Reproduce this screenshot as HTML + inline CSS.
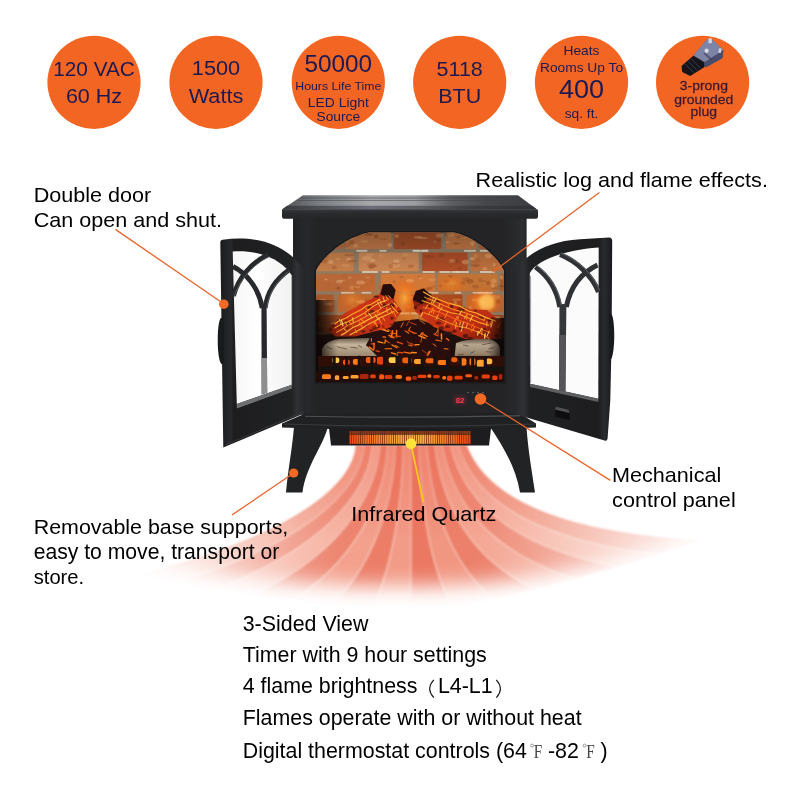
<!DOCTYPE html>
<html><head><meta charset="utf-8"><title>Infrared Quartz Stove</title>
<style>
html,body{margin:0;padding:0;background:#fff;}
body{width:800px;height:800px;overflow:hidden;font-family:"Liberation Sans",sans-serif;}
svg{display:block;position:absolute;left:0;top:0;will-change:transform;}
text{font-family:"Liberation Sans",sans-serif;}
</style></head><body>
<svg width="800" height="800" viewBox="0 0 800 800">
<defs>
<linearGradient id="mV" x1="0" y1="445" x2="0" y2="606" gradientUnits="userSpaceOnUse"><stop offset="0" stop-color="#fff"/><stop offset="0.55" stop-color="#f4f4f4"/><stop offset="0.75" stop-color="#c0c0c0"/><stop offset="0.9" stop-color="#555"/><stop offset="1" stop-color="#000"/></linearGradient>
<linearGradient id="mL" x1="130" y1="0" x2="230" y2="0" gradientUnits="userSpaceOnUse"><stop offset="0" stop-color="#000" stop-opacity="1"/><stop offset="1" stop-color="#000" stop-opacity="0"/></linearGradient>
<linearGradient id="mR" x1="630" y1="0" x2="700" y2="0" gradientUnits="userSpaceOnUse"><stop offset="0" stop-color="#000" stop-opacity="0"/><stop offset="1" stop-color="#000" stop-opacity="1"/></linearGradient>
<linearGradient id="mH" x1="100" y1="0" x2="740" y2="0" gradientUnits="userSpaceOnUse"><stop offset="0.0000" stop-color="#fff" stop-opacity="0"/><stop offset="0.0781" stop-color="#fff" stop-opacity="0.12"/><stop offset="0.1562" stop-color="#fff" stop-opacity="0.32"/><stop offset="0.2344" stop-color="#fff" stop-opacity="0.58"/><stop offset="0.3125" stop-color="#fff" stop-opacity="0.86"/><stop offset="0.3750" stop-color="#fff" stop-opacity="1"/><stop offset="0.5938" stop-color="#fff" stop-opacity="1"/><stop offset="0.6562" stop-color="#fff" stop-opacity="0.86"/><stop offset="0.7500" stop-color="#fff" stop-opacity="0.6"/><stop offset="0.8438" stop-color="#fff" stop-opacity="0.34"/><stop offset="0.9219" stop-color="#fff" stop-opacity="0.13"/><stop offset="1.0000" stop-color="#fff" stop-opacity="0"/></linearGradient>
<filter id="fMask" filterUnits="userSpaceOnUse" x="60" y="380" width="720" height="280"><feGaussianBlur stdDeviation="10"/></filter>
<mask id="mHeat" style="mask-type:alpha" maskUnits="userSpaceOnUse" x="100" y="430" width="640" height="200"><g filter="url(#fMask)"><path d="M100,380 L100,552 C200,578 320,586 411,586 C520,586 620,565 740,520 L740,380 Z" fill="url(#mH)"/></g></mask>
<filter id="fHeat" x="-5%" y="-5%" width="110%" height="110%"><feGaussianBlur stdDeviation="1.3"/></filter>

<linearGradient id="gHot" x1="0" y1="445" x2="0" y2="540" gradientUnits="userSpaceOnUse"><stop offset="0" stop-color="#ea5a42" stop-opacity="0.3"/><stop offset="1" stop-color="#ea5a42" stop-opacity="0"/></linearGradient>
<linearGradient id="gBody" x1="0" y1="0" x2="1" y2="0">
<stop offset="0" stop-color="#212224"/><stop offset="0.06" stop-color="#27282b"/><stop offset="0.1" stop-color="#232426"/>
<stop offset="0.9" stop-color="#242427"/><stop offset="0.985" stop-color="#2c2e30"/><stop offset="1" stop-color="#212224"/></linearGradient>
<linearGradient id="gLid" x1="0" y1="0" x2="0" y2="1">
<stop offset="0" stop-color="#28292d"/><stop offset="0.22" stop-color="#2f3134"/><stop offset="0.3" stop-color="#47494d"/>
<stop offset="0.5" stop-color="#3b3d40"/><stop offset="0.8" stop-color="#37383c"/><stop offset="1" stop-color="#404246"/></linearGradient>
<linearGradient id="gLidH" x1="282" y1="0" x2="537" y2="0" gradientUnits="userSpaceOnUse">
<stop offset="0" stop-color="#4e5053"/><stop offset="0.15" stop-color="#7c7f84"/><stop offset="0.35" stop-color="#a6a8ac"/><stop offset="0.52" stop-color="#9c9ea2"/><stop offset="0.66" stop-color="#5e5f63"/><stop offset="0.8" stop-color="#45474a"/><stop offset="1" stop-color="#3a3c3f"/></linearGradient>
<linearGradient id="gLidF" x1="282" y1="0" x2="537" y2="0" gradientUnits="userSpaceOnUse">
<stop offset="0" stop-color="#383a3d"/><stop offset="0.35" stop-color="#6a6d78"/><stop offset="0.55" stop-color="#5c5d62"/><stop offset="0.75" stop-color="#3a3c3f"/><stop offset="1" stop-color="#303135"/></linearGradient>
<linearGradient id="gRim" x1="0" y1="0" x2="0" y2="1">
<stop offset="0" stop-color="#37383c"/><stop offset="0.4" stop-color="#2a2b2e"/><stop offset="1" stop-color="#252628"/></linearGradient>
<linearGradient id="gGlow" x1="0" y1="0" x2="1" y2="0">
<stop offset="0" stop-color="#ee4a18"/><stop offset="0.2" stop-color="#f87a26"/><stop offset="0.45" stop-color="#fcae40"/><stop offset="0.6" stop-color="#fcb244"/><stop offset="0.8" stop-color="#f87a26"/><stop offset="1" stop-color="#ea4416"/></linearGradient>
<pattern id="pGrille" width="2.2" height="4" patternUnits="userSpaceOnUse"><rect x="1.5" width="0.7" height="4" fill="#5a1a08" opacity="0.75"/></pattern>
<radialGradient id="gFire" cx="0.5" cy="0.5" r="0.5">
<stop offset="0" stop-color="#ff9a30" stop-opacity="0.55"/><stop offset="0.5" stop-color="#ff7a20" stop-opacity="0.25"/><stop offset="1" stop-color="#ff6a10" stop-opacity="0"/></radialGradient>
<linearGradient id="gBoxShade" x1="0" y1="0" x2="0" y2="1">
<stop offset="0" stop-color="#000" stop-opacity="0.25"/><stop offset="0.25" stop-color="#000" stop-opacity="0"/><stop offset="0.55" stop-color="#000" stop-opacity="0.05"/><stop offset="0.75" stop-color="#100" stop-opacity="0.55"/><stop offset="1" stop-color="#100" stop-opacity="0.75"/></linearGradient>
<filter id="fBrick" x="-2%" y="-2%" width="104%" height="104%"><feGaussianBlur stdDeviation="0.55"/></filter>
<clipPath id="cBox"><path d="M316,382 L316,271 C321,259 343,238 369,232.6 L454,232.6 C478,238 499,259 504,271 L504,382 Z"/></clipPath>

<linearGradient id="gLogL" x1="0" y1="1" x2="1" y2="0"><stop offset="0" stop-color="#7a1c0c"/><stop offset="0.4" stop-color="#d23616"/><stop offset="0.75" stop-color="#c02c12"/><stop offset="1" stop-color="#48140a"/></linearGradient>
<linearGradient id="gLogR" x1="0" y1="0" x2="1" y2="1"><stop offset="0" stop-color="#48140a"/><stop offset="0.3" stop-color="#cc3416"/><stop offset="0.7" stop-color="#bc2c12"/><stop offset="1" stop-color="#64180c"/></linearGradient>
<linearGradient id="gAsh" x1="0" y1="0" x2="0" y2="1"><stop offset="0" stop-color="#6a5a4a"/><stop offset="0.25" stop-color="#c4b49a"/><stop offset="0.65" stop-color="#a08c74"/><stop offset="1" stop-color="#5a3a28"/></linearGradient>
<radialGradient id="gFlame" cx="0.5" cy="0.5" r="0.5"><stop offset="0" stop-color="#ffb040" stop-opacity="0.9"/><stop offset="0.5" stop-color="#ff7a18" stop-opacity="0.55"/><stop offset="1" stop-color="#ff5a08" stop-opacity="0"/></radialGradient>
<linearGradient id="gSideL" x1="0" y1="0" x2="1" y2="0"><stop offset="0" stop-color="#0c0605" stop-opacity="0.95"/><stop offset="1" stop-color="#0c0605" stop-opacity="0"/></linearGradient>
<linearGradient id="gSideR" x1="1" y1="0" x2="0" y2="0"><stop offset="0" stop-color="#0c0605" stop-opacity="0.9"/><stop offset="1" stop-color="#0c0605" stop-opacity="0"/></linearGradient>
<filter id="fBlur1" x="-20%" y="-20%" width="140%" height="140%"><feGaussianBlur stdDeviation="0.45"/></filter>
<filter id="fBlur2" x="-20%" y="-20%" width="140%" height="140%"><feGaussianBlur stdDeviation="1.6"/></filter>

<linearGradient id="gDoorL" x1="0" y1="0" x2="1" y2="0"><stop offset="0" stop-color="#1b1b1e"/><stop offset="0.12" stop-color="#28292c"/><stop offset="0.16" stop-color="#1d1d20"/><stop offset="0.84" stop-color="#212224"/><stop offset="0.9" stop-color="#303135"/><stop offset="1" stop-color="#242527"/></linearGradient>
<linearGradient id="gDoorR" x1="0" y1="0" x2="1" y2="0"><stop offset="0" stop-color="#242527"/><stop offset="0.1" stop-color="#303135"/><stop offset="0.17" stop-color="#202123"/><stop offset="0.86" stop-color="#1d1d20"/><stop offset="0.92" stop-color="#2a2b2e"/><stop offset="1" stop-color="#1a1a1d"/></linearGradient>
<linearGradient id="gGlassL" x1="0" y1="0" x2="1" y2="0"><stop offset="0" stop-color="#f6f6f7"/><stop offset="0.4" stop-color="#ffffff"/><stop offset="1" stop-color="#f1f1f2"/></linearGradient>

</defs>
<rect width="800" height="800" fill="#fff"/>

<circle cx="94" cy="82.3" r="46.6" fill="#f26522"/>
<circle cx="216" cy="82.3" r="46.6" fill="#f26522"/>
<circle cx="338.3" cy="82.3" r="46.6" fill="#f26522"/>
<circle cx="459.7" cy="82.3" r="46.6" fill="#f26522"/>
<circle cx="581.5" cy="82.3" r="46.6" fill="#f26522"/>
<circle cx="702.6" cy="82.3" r="46.6" fill="#f26522"/>
<text transform="translate(94,76) scale(1.025,1)" font-size="20.3" fill="#1b1a55" text-anchor="middle" >120 VAC</text>
<text transform="translate(94,103) scale(1.06,1)" font-size="20.3" fill="#1b1a55" text-anchor="middle" >60 Hz</text>
<text transform="translate(216,74.7) scale(1.06,1)" font-size="20.5" fill="#1b1a55" text-anchor="middle" >1500</text>
<text transform="translate(216,102.8) scale(1.06,1)" font-size="20.5" fill="#1b1a55" text-anchor="middle" >Watts</text>
<text transform="translate(338.3,71.5) scale(1.06,1)" font-size="23" fill="#1b1a55" text-anchor="middle" >50000</text>
<text transform="translate(338.3,90) scale(1.06,1)" font-size="11.6" fill="#1b1a55" text-anchor="middle" >Hours Life Time</text>
<text transform="translate(338.3,107) scale(1.06,1)" font-size="13.1" fill="#1b1a55" text-anchor="middle" >LED Light</text>
<text transform="translate(338.3,120.6) scale(1.06,1)" font-size="13" fill="#1b1a55" text-anchor="middle" >Source</text>
<text transform="translate(459.7,76) scale(1.06,1)" font-size="20.3" fill="#1b1a55" text-anchor="middle" >5118</text>
<text transform="translate(459.7,103) scale(1.06,1)" font-size="20.3" fill="#1b1a55" text-anchor="middle" >BTU</text>
<text transform="translate(581.5,55) scale(1.06,1)" font-size="13" fill="#1b1a55" text-anchor="middle" >Heats</text>
<text transform="translate(581.5,71.5) scale(1.06,1)" font-size="13" fill="#1b1a55" text-anchor="middle" >Rooms Up To</text>
<text transform="translate(581.5,98) scale(1.06,1)" font-size="25.5" fill="#1b1a55" text-anchor="middle" >400</text>
<text transform="translate(581.5,117.5) scale(1.06,1)" font-size="13" fill="#1b1a55" text-anchor="middle" >sq. ft.</text>
<text transform="translate(703.8,89.6) scale(1.06,1)" font-size="13.2" fill="#3b1830" text-anchor="middle" stroke="#3b1830" stroke-width="0.25">3-prong</text>
<text transform="translate(703.8,104.2) scale(1.06,1)" font-size="13.2" fill="#3b1830" text-anchor="middle" stroke="#3b1830" stroke-width="0.25">grounded</text>
<text transform="translate(703.8,116.4) scale(1.06,1)" font-size="13.2" fill="#3b1830" text-anchor="middle" stroke="#3b1830" stroke-width="0.25">plug</text>
<g>
<path d="M681.5,66 L693.6,55.4 L705,62.5 L705,66.8 L690.2,76 L682.2,72 Z" fill="#15151b"/>
<g stroke="#3a3c52" stroke-width="1"><path d="M685,63.8 L693.6,72.6"/><path d="M688,61.2 L697,70.3"/><path d="M691,58.6 L700.4,68.1"/></g>
<path d="M693.6,55.4 L706.7,39.8 L711.3,38.7 L723.4,50.1 L722.6,58 L706.7,66.9 L704.5,66.9 L704.5,62.4 Z" fill="#666b8c"/>
<path d="M693.6,55.4 L706.7,39.8 L711.3,38.7 L723.4,50.1 L705.5,61.5 Z" fill="#7e84a6"/>
<path d="M723.4,50.1 L722.6,58 L706.7,66.9 L704.5,66.9 L704.5,62.4 Z" fill="#4a4e6c"/>
<path d="M708.3,38.6 L711.8,38.3 L712,43 L708.6,43.4 Z" fill="#cfd2e0"/>
<path d="M718.8,48.5 L721.4,48.2 L721,52.8 L718.4,53 Z" fill="#cfd2e0"/>
<ellipse cx="706.6" cy="50.8" rx="2.1" ry="2.2" fill="#d6d8e4"/>
<path d="M704,53 L712,60 " stroke="#3c3f58" stroke-width="2.2" opacity="0.6"/>
</g>
<g mask="url(#mHeat)"><g filter="url(#fHeat)">
<path d="M356.5,445.0 C354.0,478.0 312.0,532.0 135.0,576.0 L174.4,582.8 C326.1,537.3 362.1,479.0 364.3,445.0 Z" fill="#f4a997"/>
<path d="M364.3,445.0 C362.1,479.0 326.1,537.3 174.4,582.8 L213.9,589.1 C340.3,542.2 370.3,480.0 372.1,445.0 Z" fill="#ef907c"/>
<path d="M372.1,445.0 C370.3,480.0 340.3,542.2 213.9,589.1 L253.3,595.1 C354.4,546.8 378.4,481.0 379.9,445.0 Z" fill="#f6b4a3"/>
<path d="M379.9,445.0 C378.4,481.0 354.4,546.8 253.3,595.1 L292.7,600.5 C368.6,551.1 386.6,482.0 387.6,445.0 Z" fill="#ed8570"/>
<path d="M387.6,445.0 C386.6,482.0 368.6,551.1 292.7,600.5 L332.1,605.4 C382.7,554.8 394.7,483.0 395.4,445.0 Z" fill="#f3a08c"/>
<path d="M395.4,445.0 C394.7,483.0 382.7,554.8 332.1,605.4 L371.6,609.4 C396.9,558.0 402.9,484.0 403.2,445.0 Z" fill="#ec7e68"/>
<path d="M403.2,445.0 C402.9,484.0 396.9,558.0 371.6,609.4 L411.0,612.0 C411.0,560.0 411.0,485.0 411.0,445.0 Z" fill="#f29b87"/>
<path d="M411.0,445.0 C411.0,485.0 411.0,560.0 411.0,612.0 L452.3,606.9 C425.1,557.8 420.3,483.1 418.9,445.0 Z" fill="#eb7862"/>
<path d="M418.9,445.0 C420.3,483.1 425.1,557.8 452.3,606.9 L493.6,598.9 C439.3,554.5 429.6,481.3 426.7,445.0 Z" fill="#f19681"/>
<path d="M426.7,445.0 C429.6,481.3 439.3,554.5 493.6,598.9 L534.9,589.4 C453.4,550.4 438.9,479.4 434.6,445.0 Z" fill="#ec806a"/>
<path d="M434.6,445.0 C438.9,479.4 453.4,550.4 534.9,589.4 L576.1,578.6 C467.6,545.9 448.1,477.6 442.4,445.0 Z" fill="#f4a693"/>
<path d="M442.4,445.0 C448.1,477.6 467.6,545.9 576.1,578.6 L617.4,566.9 C481.7,541.0 457.4,475.7 450.3,445.0 Z" fill="#ee8b76"/>
<path d="M450.3,445.0 C457.4,475.7 481.7,541.0 617.4,566.9 L658.7,554.3 C495.9,535.6 466.7,473.9 458.1,445.0 Z" fill="#f5b09e"/>
<path d="M458.1,445.0 C466.7,473.9 495.9,535.6 658.7,554.3 L700.0,541.0 C510.0,530.0 476.0,472.0 466.0,445.0 Z" fill="#f19984"/>
<path d="M364.3,445.0 C362.1,479.0 326.1,537.3 174.4,582.8" fill="none" stroke="#fbd5ca" stroke-width="1.3" opacity="0.65"/>
<path d="M372.1,445.0 C370.3,480.0 340.3,542.2 213.9,589.1" fill="none" stroke="#fbd5ca" stroke-width="1.3" opacity="0.65"/>
<path d="M379.9,445.0 C378.4,481.0 354.4,546.8 253.3,595.1" fill="none" stroke="#fbd5ca" stroke-width="1.3" opacity="0.65"/>
<path d="M387.6,445.0 C386.6,482.0 368.6,551.1 292.7,600.5" fill="none" stroke="#fbd5ca" stroke-width="1.3" opacity="0.65"/>
<path d="M395.4,445.0 C394.7,483.0 382.7,554.8 332.1,605.4" fill="none" stroke="#fbd5ca" stroke-width="1.3" opacity="0.65"/>
<path d="M403.2,445.0 C402.9,484.0 396.9,558.0 371.6,609.4" fill="none" stroke="#fbd5ca" stroke-width="1.3" opacity="0.65"/>
<path d="M411.0,445.0 C411.0,485.0 411.0,560.0 411.0,612.0" fill="none" stroke="#fbd5ca" stroke-width="1.3" opacity="0.65"/>
<path d="M418.9,445.0 C420.3,483.1 425.1,557.8 452.3,606.9" fill="none" stroke="#fbd5ca" stroke-width="1.3" opacity="0.65"/>
<path d="M426.7,445.0 C429.6,481.3 439.3,554.5 493.6,598.9" fill="none" stroke="#fbd5ca" stroke-width="1.3" opacity="0.65"/>
<path d="M434.6,445.0 C438.9,479.4 453.4,550.4 534.9,589.4" fill="none" stroke="#fbd5ca" stroke-width="1.3" opacity="0.65"/>
<path d="M442.4,445.0 C448.1,477.6 467.6,545.9 576.1,578.6" fill="none" stroke="#fbd5ca" stroke-width="1.3" opacity="0.65"/>
<path d="M450.3,445.0 C457.4,475.7 481.7,541.0 617.4,566.9" fill="none" stroke="#fbd5ca" stroke-width="1.3" opacity="0.65"/>
<path d="M458.1,445.0 C466.7,473.9 495.9,535.6 658.7,554.3" fill="none" stroke="#fbd5ca" stroke-width="1.3" opacity="0.65"/>
<path d="M356.5,445.0 C354.0,478.0 312.0,532.0 135.0,576.0 L700.0,541.0 C510.0,530.0 476.0,472.0 466.0,445.0 Z" fill="url(#gHot)"/>
<path d="M356.5,445.0 C354.0,478.0 312.0,532.0 135.0,576.0" fill="none" stroke="#ee7f66" stroke-width="1.4" opacity="0.8"/>
<path d="M466.0,445.0 C476.0,472.0 510.0,530.0 700.0,541.0" fill="none" stroke="#ee7f66" stroke-width="1.4" opacity="0.8"/>
</g></g>
<g id="stove">
<path d="M293,216 L526.6,216 L526.6,413 L518,414.5 L304,415 L293,413 Z" fill="url(#gBody)"/>
<path d="M314.5,383.5 L314.5,270.5 C320,258 342,236.5 369,231 L454,231 C479,236.5 500.5,258 505.5,270.5 L505.5,383.5 Z" fill="#1a1a1d"/>
<g clip-path="url(#cBox)">
<rect x="316" y="232" width="188" height="150" fill="#8f7a62"/>
<g filter="url(#fBrick)">
<rect x="316" y="232" width="27.0" height="17.0" rx="1.5" fill="#b2683c"/>
<ellipse cx="328.3" cy="241.3" rx="3.1" ry="1.6" fill="#a85a2c" opacity="0.4"/>
<ellipse cx="331.7" cy="236.4" rx="3.2" ry="1.8" fill="#7d3f20" opacity="0.4"/>
<ellipse cx="321.7" cy="239.8" rx="1.8" ry="2.1" fill="#e2a56a" opacity="0.4"/>
<ellipse cx="334.3" cy="234.5" rx="4.9" ry="1.8" fill="#e8b27a" opacity="0.4"/>
<ellipse cx="332.4" cy="236.0" rx="4.4" ry="0.9" fill="#8f4a26" opacity="0.4"/>
<ellipse cx="317.9" cy="245.4" rx="1.6" ry="1.5" fill="#7d3f20" opacity="0.4"/>
<ellipse cx="328.0" cy="245.0" rx="2.3" ry="1.3" fill="#7d3f20" opacity="0.4"/>
<rect x="345" y="232" width="46.2" height="17.0" rx="1.5" fill="#c17846"/>
<ellipse cx="346.2" cy="235.1" rx="2.5" ry="2.4" fill="#f0c090" opacity="0.4"/>
<ellipse cx="390.0" cy="244.9" rx="2.4" ry="2.0" fill="#f0c090" opacity="0.4"/>
<ellipse cx="368.7" cy="234.4" rx="4.2" ry="1.4" fill="#7d3f20" opacity="0.4"/>
<ellipse cx="383.4" cy="239.0" rx="4.5" ry="0.8" fill="#8f4a26" opacity="0.4"/>
<ellipse cx="355.3" cy="245.8" rx="2.8" ry="1.9" fill="#e8b27a" opacity="0.4"/>
<ellipse cx="364.6" cy="241.4" rx="4.2" ry="1.2" fill="#e2a56a" opacity="0.4"/>
<ellipse cx="349.9" cy="238.3" rx="4.2" ry="1.0" fill="#e8b27a" opacity="0.4"/>
<ellipse cx="356.9" cy="235.3" rx="3.1" ry="1.6" fill="#8f4a26" opacity="0.4"/>
<ellipse cx="376.1" cy="236.4" rx="2.2" ry="2.0" fill="#7d3f20" opacity="0.4"/>
<ellipse cx="351.8" cy="242.4" rx="2.9" ry="2.4" fill="#8f4a26" opacity="0.4"/>
<ellipse cx="346.0" cy="245.2" rx="3.6" ry="2.4" fill="#a85a2c" opacity="0.4"/>
<rect x="393.7" y="232" width="47.5" height="17.0" rx="1.5" fill="#a5502b"/>
<ellipse cx="395.6" cy="236.4" rx="3.6" ry="1.7" fill="#a85a2c" opacity="0.4"/>
<ellipse cx="396.6" cy="235.9" rx="2.4" ry="2.0" fill="#e8b27a" opacity="0.4"/>
<ellipse cx="409.7" cy="237.9" rx="1.8" ry="1.1" fill="#8f4a26" opacity="0.4"/>
<ellipse cx="423.7" cy="234.2" rx="2.8" ry="1.5" fill="#9c5227" opacity="0.4"/>
<ellipse cx="438.3" cy="240.3" rx="2.0" ry="1.4" fill="#7d3f20" opacity="0.4"/>
<ellipse cx="423.2" cy="238.0" rx="4.4" ry="1.2" fill="#e2a56a" opacity="0.4"/>
<ellipse cx="403.3" cy="243.6" rx="2.2" ry="2.3" fill="#7d3f20" opacity="0.4"/>
<ellipse cx="434.8" cy="241.8" rx="1.7" ry="1.0" fill="#e8b27a" opacity="0.4"/>
<ellipse cx="418.0" cy="237.3" rx="4.0" ry="1.2" fill="#f0c090" opacity="0.4"/>
<ellipse cx="432.2" cy="241.8" rx="3.3" ry="2.3" fill="#9c5227" opacity="0.4"/>
<ellipse cx="439.2" cy="235.6" rx="3.5" ry="2.2" fill="#e8b27a" opacity="0.4"/>
<rect x="446" y="232" width="30.0" height="17.0" rx="1.5" fill="#c07644"/>
<ellipse cx="464.2" cy="237.6" rx="4.1" ry="0.9" fill="#e2a56a" opacity="0.4"/>
<ellipse cx="458.5" cy="237.2" rx="2.1" ry="1.4" fill="#8f4a26" opacity="0.4"/>
<ellipse cx="463.0" cy="235.7" rx="2.0" ry="1.5" fill="#9c5227" opacity="0.4"/>
<ellipse cx="456.3" cy="243.5" rx="3.5" ry="1.0" fill="#7d3f20" opacity="0.4"/>
<ellipse cx="448.0" cy="234.2" rx="4.0" ry="2.3" fill="#9c5227" opacity="0.4"/>
<ellipse cx="447.6" cy="242.3" rx="1.7" ry="1.3" fill="#e8b27a" opacity="0.4"/>
<ellipse cx="450.8" cy="234.9" rx="3.4" ry="2.0" fill="#e8b27a" opacity="0.4"/>
<ellipse cx="472.2" cy="243.6" rx="2.0" ry="2.3" fill="#f0c090" opacity="0.4"/>
<rect x="479" y="232" width="25.0" height="17.0" rx="1.5" fill="#ab6034"/>
<ellipse cx="487.9" cy="235.1" rx="4.7" ry="2.2" fill="#e8b27a" opacity="0.4"/>
<ellipse cx="489.6" cy="244.3" rx="3.2" ry="0.8" fill="#a85a2c" opacity="0.4"/>
<ellipse cx="495.2" cy="238.9" rx="3.6" ry="0.9" fill="#8f4a26" opacity="0.4"/>
<ellipse cx="494.7" cy="246.9" rx="4.0" ry="1.4" fill="#e8b27a" opacity="0.4"/>
<ellipse cx="496.9" cy="241.6" rx="3.1" ry="1.7" fill="#e8b27a" opacity="0.4"/>
<ellipse cx="491.9" cy="240.7" rx="3.6" ry="1.6" fill="#9c5227" opacity="0.4"/>
<ellipse cx="485.3" cy="243.1" rx="4.2" ry="1.9" fill="#e8b27a" opacity="0.4"/>
<rect x="316" y="252.5" width="37.7" height="18.7" rx="1.5" fill="#c17b49"/>
<ellipse cx="334.4" cy="267.7" rx="2.6" ry="1.9" fill="#9c5227" opacity="0.4"/>
<ellipse cx="324.2" cy="257.0" rx="3.8" ry="1.5" fill="#9c5227" opacity="0.4"/>
<ellipse cx="348.8" cy="259.3" rx="2.4" ry="1.8" fill="#f0c090" opacity="0.4"/>
<ellipse cx="345.7" cy="265.6" rx="4.6" ry="1.4" fill="#e2a56a" opacity="0.4"/>
<ellipse cx="337.8" cy="259.2" rx="2.0" ry="1.4" fill="#e2a56a" opacity="0.4"/>
<ellipse cx="349.0" cy="255.1" rx="4.8" ry="1.2" fill="#8f4a26" opacity="0.4"/>
<ellipse cx="323.0" cy="261.1" rx="4.7" ry="2.1" fill="#9c5227" opacity="0.4"/>
<ellipse cx="330.7" cy="262.1" rx="2.6" ry="2.1" fill="#f0c090" opacity="0.4"/>
<ellipse cx="352.1" cy="261.2" rx="4.4" ry="1.2" fill="#8f4a26" opacity="0.4"/>
<rect x="358.7" y="252.5" width="60.0" height="18.7" rx="1.5" fill="#c88452"/>
<ellipse cx="394.9" cy="264.5" rx="3.5" ry="1.3" fill="#9c5227" opacity="0.4"/>
<ellipse cx="405.6" cy="254.8" rx="2.9" ry="1.1" fill="#e2a56a" opacity="0.4"/>
<ellipse cx="404.3" cy="258.4" rx="2.0" ry="0.9" fill="#a85a2c" opacity="0.4"/>
<ellipse cx="396.2" cy="261.1" rx="3.4" ry="1.8" fill="#f0c090" opacity="0.4"/>
<ellipse cx="381.1" cy="255.6" rx="2.2" ry="1.6" fill="#e2a56a" opacity="0.4"/>
<ellipse cx="370.1" cy="254.7" rx="3.4" ry="0.9" fill="#e8b27a" opacity="0.4"/>
<ellipse cx="372.8" cy="265.9" rx="3.9" ry="1.6" fill="#7d3f20" opacity="0.4"/>
<ellipse cx="395.3" cy="265.6" rx="4.5" ry="1.9" fill="#e8b27a" opacity="0.4"/>
<ellipse cx="372.7" cy="260.5" rx="2.9" ry="1.5" fill="#f0c090" opacity="0.4"/>
<ellipse cx="371.1" cy="267.5" rx="2.8" ry="1.7" fill="#8f4a26" opacity="0.4"/>
<ellipse cx="410.7" cy="266.2" rx="3.1" ry="1.8" fill="#9c5227" opacity="0.4"/>
<ellipse cx="371.6" cy="265.1" rx="4.3" ry="2.3" fill="#a85a2c" opacity="0.4"/>
<ellipse cx="366.9" cy="258.1" rx="4.9" ry="2.4" fill="#e8b27a" opacity="0.4"/>
<ellipse cx="390.8" cy="266.1" rx="2.4" ry="1.9" fill="#9c5227" opacity="0.4"/>
<rect x="422" y="252.5" width="45.5" height="18.7" rx="1.5" fill="#ab4b26"/>
<ellipse cx="423.7" cy="261.9" rx="3.0" ry="1.7" fill="#8f4a26" opacity="0.4"/>
<ellipse cx="456.4" cy="261.7" rx="2.3" ry="2.2" fill="#8f4a26" opacity="0.4"/>
<ellipse cx="441.7" cy="255.0" rx="2.7" ry="2.1" fill="#7d3f20" opacity="0.4"/>
<ellipse cx="429.1" cy="256.7" rx="4.7" ry="1.6" fill="#7d3f20" opacity="0.4"/>
<ellipse cx="452.5" cy="261.0" rx="3.5" ry="1.9" fill="#e8b27a" opacity="0.4"/>
<ellipse cx="456.0" cy="261.0" rx="2.5" ry="2.0" fill="#7d3f20" opacity="0.4"/>
<ellipse cx="450.8" cy="262.2" rx="4.7" ry="1.2" fill="#a85a2c" opacity="0.4"/>
<ellipse cx="452.2" cy="268.5" rx="4.7" ry="1.1" fill="#a85a2c" opacity="0.4"/>
<ellipse cx="460.0" cy="268.7" rx="2.5" ry="1.6" fill="#7d3f20" opacity="0.4"/>
<ellipse cx="440.9" cy="256.2" rx="3.6" ry="0.8" fill="#8f4a26" opacity="0.4"/>
<ellipse cx="465.2" cy="262.1" rx="3.4" ry="2.4" fill="#e8b27a" opacity="0.4"/>
<rect x="471" y="252.5" width="33.0" height="18.7" rx="1.5" fill="#ba6e3e"/>
<ellipse cx="475.8" cy="255.9" rx="1.7" ry="1.7" fill="#e2a56a" opacity="0.4"/>
<ellipse cx="484.8" cy="268.6" rx="2.4" ry="1.6" fill="#e8b27a" opacity="0.4"/>
<ellipse cx="475.9" cy="260.9" rx="4.8" ry="2.3" fill="#a85a2c" opacity="0.4"/>
<ellipse cx="488.3" cy="256.1" rx="3.7" ry="2.3" fill="#e8b27a" opacity="0.4"/>
<ellipse cx="476.0" cy="266.0" rx="1.6" ry="1.0" fill="#8f4a26" opacity="0.4"/>
<ellipse cx="472.4" cy="258.7" rx="2.7" ry="1.8" fill="#f0c090" opacity="0.4"/>
<ellipse cx="475.3" cy="265.2" rx="4.5" ry="1.8" fill="#8f4a26" opacity="0.4"/>
<ellipse cx="494.2" cy="264.8" rx="1.6" ry="1.8" fill="#e8b27a" opacity="0.4"/>
<rect x="464.1" y="249.9" width="11.8" height="1.8" fill="#e6dccb" opacity="0.8"/>
<rect x="413.3" y="249.9" width="14.5" height="1.8" fill="#e6dccb" opacity="0.8"/>
<rect x="412.5" y="249.9" width="7.4" height="1.8" fill="#e6dccb" opacity="0.8"/>
<rect x="356.3" y="249.9" width="11.0" height="1.8" fill="#e6dccb" opacity="0.8"/>
<rect x="421.8" y="249.9" width="6.5" height="1.8" fill="#e6dccb" opacity="0.8"/>
<rect x="479.9" y="249.9" width="11.9" height="1.8" fill="#e6dccb" opacity="0.8"/>
<rect x="379.5" y="249.9" width="7.0" height="1.8" fill="#e6dccb" opacity="0.8"/>
<rect x="316" y="273.7" width="59.5" height="17.5" rx="1.5" fill="#ba6837"/>
<ellipse cx="351.7" cy="287.7" rx="2.3" ry="2.4" fill="#e2a56a" opacity="0.4"/>
<ellipse cx="368.0" cy="277.5" rx="2.0" ry="0.9" fill="#e2a56a" opacity="0.4"/>
<ellipse cx="339.3" cy="281.6" rx="3.4" ry="1.9" fill="#e8b27a" opacity="0.4"/>
<ellipse cx="328.5" cy="284.2" rx="1.6" ry="1.1" fill="#a85a2c" opacity="0.4"/>
<ellipse cx="356.2" cy="288.0" rx="1.9" ry="1.6" fill="#9c5227" opacity="0.4"/>
<ellipse cx="360.6" cy="282.5" rx="4.4" ry="2.1" fill="#f0c090" opacity="0.4"/>
<ellipse cx="344.7" cy="276.0" rx="3.4" ry="1.6" fill="#a85a2c" opacity="0.4"/>
<ellipse cx="349.7" cy="277.7" rx="1.9" ry="1.1" fill="#e2a56a" opacity="0.4"/>
<ellipse cx="326.1" cy="279.5" rx="1.8" ry="0.9" fill="#f0c090" opacity="0.4"/>
<ellipse cx="371.7" cy="281.9" rx="1.8" ry="1.4" fill="#a85a2c" opacity="0.4"/>
<ellipse cx="341.5" cy="280.5" rx="3.6" ry="0.8" fill="#e2a56a" opacity="0.4"/>
<ellipse cx="357.3" cy="287.1" rx="2.9" ry="1.4" fill="#e2a56a" opacity="0.4"/>
<ellipse cx="338.3" cy="288.1" rx="2.1" ry="1.6" fill="#7d3f20" opacity="0.4"/>
<rect x="381" y="273.7" width="54.0" height="17.5" rx="1.5" fill="#cc7a3e"/>
<ellipse cx="382.8" cy="287.8" rx="4.4" ry="2.2" fill="#a85a2c" opacity="0.4"/>
<ellipse cx="429.3" cy="288.4" rx="3.6" ry="1.6" fill="#7d3f20" opacity="0.4"/>
<ellipse cx="433.1" cy="286.6" rx="2.5" ry="1.0" fill="#9c5227" opacity="0.4"/>
<ellipse cx="420.6" cy="277.9" rx="2.0" ry="1.3" fill="#e8b27a" opacity="0.4"/>
<ellipse cx="410.0" cy="280.7" rx="4.2" ry="1.4" fill="#e8b27a" opacity="0.4"/>
<ellipse cx="419.6" cy="276.7" rx="2.6" ry="1.0" fill="#9c5227" opacity="0.4"/>
<ellipse cx="428.2" cy="289.1" rx="1.7" ry="1.2" fill="#7d3f20" opacity="0.4"/>
<ellipse cx="432.0" cy="279.7" rx="3.8" ry="1.7" fill="#e2a56a" opacity="0.4"/>
<ellipse cx="409.7" cy="281.0" rx="3.7" ry="1.9" fill="#e8b27a" opacity="0.4"/>
<ellipse cx="421.6" cy="288.9" rx="1.9" ry="1.0" fill="#8f4a26" opacity="0.4"/>
<ellipse cx="394.3" cy="281.7" rx="1.7" ry="1.1" fill="#7d3f20" opacity="0.4"/>
<ellipse cx="401.5" cy="277.0" rx="2.5" ry="1.3" fill="#9c5227" opacity="0.4"/>
<rect x="437.5" y="273.7" width="60.0" height="17.5" rx="1.5" fill="#c37334"/>
<ellipse cx="469.8" cy="281.3" rx="3.5" ry="2.4" fill="#7d3f20" opacity="0.4"/>
<ellipse cx="475.5" cy="286.6" rx="3.4" ry="1.9" fill="#8f4a26" opacity="0.4"/>
<ellipse cx="493.9" cy="280.9" rx="2.9" ry="2.4" fill="#e2a56a" opacity="0.4"/>
<ellipse cx="488.1" cy="283.0" rx="1.7" ry="2.3" fill="#7d3f20" opacity="0.4"/>
<ellipse cx="462.9" cy="282.8" rx="2.6" ry="1.6" fill="#7d3f20" opacity="0.4"/>
<ellipse cx="466.5" cy="279.3" rx="3.8" ry="2.0" fill="#9c5227" opacity="0.4"/>
<ellipse cx="440.1" cy="286.1" rx="1.6" ry="1.1" fill="#7d3f20" opacity="0.4"/>
<ellipse cx="482.3" cy="281.0" rx="4.1" ry="0.9" fill="#9c5227" opacity="0.4"/>
<ellipse cx="495.8" cy="288.5" rx="4.3" ry="1.2" fill="#8f4a26" opacity="0.4"/>
<ellipse cx="480.2" cy="279.1" rx="2.4" ry="1.6" fill="#a85a2c" opacity="0.4"/>
<ellipse cx="492.9" cy="285.5" rx="2.0" ry="2.3" fill="#e8b27a" opacity="0.4"/>
<ellipse cx="452.7" cy="285.2" rx="3.7" ry="1.5" fill="#8f4a26" opacity="0.4"/>
<ellipse cx="450.3" cy="276.4" rx="2.0" ry="1.4" fill="#7d3f20" opacity="0.4"/>
<ellipse cx="446.6" cy="281.3" rx="2.4" ry="1.7" fill="#7d3f20" opacity="0.4"/>
<rect x="500" y="273.7" width="4.0" height="17.5" rx="1.5" fill="#ab5b2b"/>
<ellipse cx="501.8" cy="286.2" rx="4.4" ry="1.0" fill="#7d3f20" opacity="0.4"/>
<ellipse cx="501.6" cy="277.4" rx="1.9" ry="2.2" fill="#e8b27a" opacity="0.4"/>
<rect x="456.8" y="271.1" width="11.9" height="1.8" fill="#e6dccb" opacity="0.8"/>
<rect x="381.6" y="271.1" width="8.0" height="1.8" fill="#e6dccb" opacity="0.8"/>
<rect x="439.3" y="271.1" width="11.2" height="1.8" fill="#e6dccb" opacity="0.8"/>
<rect x="422.7" y="271.1" width="12.0" height="1.8" fill="#e6dccb" opacity="0.8"/>
<rect x="451.3" y="271.1" width="7.1" height="1.8" fill="#e6dccb" opacity="0.8"/>
<rect x="362.1" y="271.1" width="15.8" height="1.8" fill="#e6dccb" opacity="0.8"/>
<rect x="480.1" y="271.1" width="14.7" height="1.8" fill="#e6dccb" opacity="0.8"/>
<rect x="316" y="294.5" width="18.0" height="17.5" rx="1.5" fill="#ab5b2f"/>
<ellipse cx="317.6" cy="297.3" rx="2.4" ry="0.8" fill="#9c5227" opacity="0.4"/>
<ellipse cx="317.6" cy="299.5" rx="1.8" ry="0.9" fill="#9c5227" opacity="0.4"/>
<ellipse cx="327.8" cy="303.9" rx="4.9" ry="1.6" fill="#f0c090" opacity="0.4"/>
<ellipse cx="322.7" cy="301.1" rx="4.1" ry="2.1" fill="#e8b27a" opacity="0.4"/>
<ellipse cx="318.2" cy="298.1" rx="4.4" ry="2.1" fill="#a85a2c" opacity="0.4"/>
<rect x="337.5" y="294.5" width="62.5" height="17.5" rx="1.5" fill="#b86835"/>
<ellipse cx="385.0" cy="302.5" rx="2.4" ry="2.1" fill="#f0c090" opacity="0.4"/>
<ellipse cx="360.8" cy="305.3" rx="2.6" ry="1.7" fill="#7d3f20" opacity="0.4"/>
<ellipse cx="383.6" cy="308.9" rx="3.8" ry="1.7" fill="#e8b27a" opacity="0.4"/>
<ellipse cx="366.5" cy="300.9" rx="1.8" ry="1.7" fill="#7d3f20" opacity="0.4"/>
<ellipse cx="367.8" cy="305.8" rx="4.4" ry="0.8" fill="#9c5227" opacity="0.4"/>
<ellipse cx="357.3" cy="308.8" rx="1.8" ry="1.3" fill="#7d3f20" opacity="0.4"/>
<ellipse cx="382.4" cy="305.9" rx="4.6" ry="1.2" fill="#9c5227" opacity="0.4"/>
<ellipse cx="378.3" cy="300.9" rx="2.6" ry="1.5" fill="#8f4a26" opacity="0.4"/>
<ellipse cx="374.5" cy="308.7" rx="4.7" ry="1.5" fill="#f0c090" opacity="0.4"/>
<ellipse cx="387.1" cy="300.6" rx="2.3" ry="2.3" fill="#9c5227" opacity="0.4"/>
<ellipse cx="382.7" cy="303.5" rx="2.8" ry="1.4" fill="#8f4a26" opacity="0.4"/>
<ellipse cx="360.5" cy="301.8" rx="4.3" ry="2.0" fill="#e8b27a" opacity="0.4"/>
<ellipse cx="360.8" cy="301.8" rx="4.4" ry="1.7" fill="#e2a56a" opacity="0.4"/>
<ellipse cx="349.2" cy="306.7" rx="2.5" ry="0.8" fill="#a85a2c" opacity="0.4"/>
<rect x="405" y="294.5" width="57.5" height="17.5" rx="1.5" fill="#9e3f1c"/>
<ellipse cx="434.6" cy="303.8" rx="2.5" ry="0.8" fill="#7d3f20" opacity="0.4"/>
<ellipse cx="452.7" cy="302.2" rx="3.4" ry="2.1" fill="#7d3f20" opacity="0.4"/>
<ellipse cx="410.7" cy="297.6" rx="1.9" ry="1.3" fill="#f0c090" opacity="0.4"/>
<ellipse cx="407.4" cy="305.3" rx="4.1" ry="1.8" fill="#8f4a26" opacity="0.4"/>
<ellipse cx="419.6" cy="299.5" rx="4.7" ry="1.3" fill="#a85a2c" opacity="0.4"/>
<ellipse cx="431.5" cy="301.2" rx="4.9" ry="1.9" fill="#a85a2c" opacity="0.4"/>
<ellipse cx="433.4" cy="303.8" rx="1.8" ry="1.8" fill="#f0c090" opacity="0.4"/>
<ellipse cx="408.6" cy="306.7" rx="2.7" ry="0.8" fill="#f0c090" opacity="0.4"/>
<ellipse cx="427.0" cy="297.7" rx="4.9" ry="1.8" fill="#e8b27a" opacity="0.4"/>
<ellipse cx="435.1" cy="306.1" rx="1.9" ry="2.3" fill="#a85a2c" opacity="0.4"/>
<ellipse cx="456.8" cy="299.8" rx="5.0" ry="1.4" fill="#e2a56a" opacity="0.4"/>
<ellipse cx="415.3" cy="299.3" rx="3.4" ry="1.2" fill="#e8b27a" opacity="0.4"/>
<ellipse cx="455.2" cy="302.9" rx="1.9" ry="1.8" fill="#f0c090" opacity="0.4"/>
<rect x="466" y="294.5" width="38.0" height="17.5" rx="1.5" fill="#ba6834"/>
<ellipse cx="494.9" cy="298.9" rx="4.1" ry="0.8" fill="#8f4a26" opacity="0.4"/>
<ellipse cx="484.3" cy="307.3" rx="1.9" ry="1.1" fill="#9c5227" opacity="0.4"/>
<ellipse cx="474.8" cy="299.7" rx="3.2" ry="1.6" fill="#f0c090" opacity="0.4"/>
<ellipse cx="482.9" cy="308.6" rx="2.1" ry="2.0" fill="#e8b27a" opacity="0.4"/>
<ellipse cx="478.2" cy="303.9" rx="3.4" ry="2.2" fill="#a85a2c" opacity="0.4"/>
<ellipse cx="484.5" cy="301.9" rx="3.8" ry="2.0" fill="#9c5227" opacity="0.4"/>
<ellipse cx="470.3" cy="308.1" rx="1.7" ry="2.3" fill="#e8b27a" opacity="0.4"/>
<ellipse cx="495.9" cy="301.7" rx="4.3" ry="2.0" fill="#7d3f20" opacity="0.4"/>
<ellipse cx="495.4" cy="297.3" rx="4.6" ry="2.2" fill="#e2a56a" opacity="0.4"/>
<rect x="478.2" y="291.9" width="10.0" height="1.8" fill="#e6dccb" opacity="0.8"/>
<rect x="361.6" y="291.9" width="9.6" height="1.8" fill="#e6dccb" opacity="0.8"/>
<rect x="472.8" y="291.9" width="9.6" height="1.8" fill="#e6dccb" opacity="0.8"/>
<rect x="454.6" y="291.9" width="6.6" height="1.8" fill="#e6dccb" opacity="0.8"/>
<rect x="478.7" y="291.9" width="13.9" height="1.8" fill="#e6dccb" opacity="0.8"/>
<rect x="341.2" y="291.9" width="13.2" height="1.8" fill="#e6dccb" opacity="0.8"/>
<rect x="427.7" y="291.9" width="10.7" height="1.8" fill="#e6dccb" opacity="0.8"/>
<rect x="316" y="315" width="36.0" height="17.5" rx="1.5" fill="#8f4621"/>
<ellipse cx="318.8" cy="324.7" rx="1.5" ry="2.1" fill="#e2a56a" opacity="0.4"/>
<ellipse cx="345.8" cy="328.1" rx="2.7" ry="1.8" fill="#8f4a26" opacity="0.4"/>
<ellipse cx="335.0" cy="329.0" rx="3.1" ry="2.3" fill="#f0c090" opacity="0.4"/>
<ellipse cx="336.9" cy="328.6" rx="1.6" ry="1.1" fill="#9c5227" opacity="0.4"/>
<ellipse cx="323.6" cy="326.2" rx="4.4" ry="1.1" fill="#a85a2c" opacity="0.4"/>
<ellipse cx="335.5" cy="324.1" rx="4.8" ry="2.3" fill="#e2a56a" opacity="0.4"/>
<ellipse cx="327.7" cy="322.5" rx="2.6" ry="1.5" fill="#7d3f20" opacity="0.4"/>
<ellipse cx="341.3" cy="321.9" rx="2.0" ry="1.9" fill="#f0c090" opacity="0.4"/>
<ellipse cx="340.0" cy="327.1" rx="4.4" ry="1.8" fill="#a85a2c" opacity="0.4"/>
<rect x="355" y="315" width="60.0" height="17.5" rx="1.5" fill="#a75426"/>
<ellipse cx="356.7" cy="322.1" rx="3.2" ry="1.3" fill="#f0c090" opacity="0.4"/>
<ellipse cx="362.6" cy="327.4" rx="5.0" ry="2.1" fill="#a85a2c" opacity="0.4"/>
<ellipse cx="368.0" cy="325.3" rx="3.7" ry="2.3" fill="#9c5227" opacity="0.4"/>
<ellipse cx="399.5" cy="329.9" rx="2.9" ry="1.9" fill="#a85a2c" opacity="0.4"/>
<ellipse cx="370.9" cy="319.7" rx="1.9" ry="1.3" fill="#f0c090" opacity="0.4"/>
<ellipse cx="371.9" cy="323.3" rx="2.7" ry="2.1" fill="#f0c090" opacity="0.4"/>
<ellipse cx="361.4" cy="318.9" rx="2.0" ry="1.8" fill="#8f4a26" opacity="0.4"/>
<ellipse cx="366.4" cy="319.6" rx="4.4" ry="1.7" fill="#8f4a26" opacity="0.4"/>
<ellipse cx="361.2" cy="320.1" rx="5.0" ry="1.5" fill="#e2a56a" opacity="0.4"/>
<ellipse cx="400.7" cy="321.6" rx="3.0" ry="1.6" fill="#a85a2c" opacity="0.4"/>
<ellipse cx="393.5" cy="327.4" rx="3.9" ry="1.6" fill="#a85a2c" opacity="0.4"/>
<ellipse cx="409.4" cy="325.4" rx="2.9" ry="1.9" fill="#f0c090" opacity="0.4"/>
<ellipse cx="413.0" cy="327.7" rx="4.9" ry="1.6" fill="#f0c090" opacity="0.4"/>
<ellipse cx="371.1" cy="319.5" rx="3.8" ry="1.0" fill="#9c5227" opacity="0.4"/>
<rect x="418" y="315" width="62.0" height="17.5" rx="1.5" fill="#a34d23"/>
<ellipse cx="441.7" cy="323.9" rx="2.5" ry="1.0" fill="#a85a2c" opacity="0.4"/>
<ellipse cx="461.8" cy="320.4" rx="4.7" ry="1.7" fill="#7d3f20" opacity="0.4"/>
<ellipse cx="440.2" cy="323.8" rx="3.5" ry="1.1" fill="#e2a56a" opacity="0.4"/>
<ellipse cx="475.0" cy="330.5" rx="4.4" ry="1.1" fill="#f0c090" opacity="0.4"/>
<ellipse cx="475.7" cy="325.5" rx="4.2" ry="1.0" fill="#e2a56a" opacity="0.4"/>
<ellipse cx="447.7" cy="322.6" rx="2.7" ry="2.3" fill="#9c5227" opacity="0.4"/>
<ellipse cx="440.7" cy="323.3" rx="3.1" ry="2.0" fill="#8f4a26" opacity="0.4"/>
<ellipse cx="433.3" cy="324.7" rx="3.5" ry="1.7" fill="#7d3f20" opacity="0.4"/>
<ellipse cx="434.9" cy="329.3" rx="2.7" ry="1.0" fill="#a85a2c" opacity="0.4"/>
<ellipse cx="475.0" cy="317.1" rx="4.6" ry="1.2" fill="#f0c090" opacity="0.4"/>
<ellipse cx="453.4" cy="328.2" rx="3.6" ry="2.1" fill="#e2a56a" opacity="0.4"/>
<ellipse cx="446.3" cy="322.4" rx="5.0" ry="2.3" fill="#a85a2c" opacity="0.4"/>
<ellipse cx="458.5" cy="321.2" rx="4.5" ry="2.3" fill="#f0c090" opacity="0.4"/>
<ellipse cx="455.9" cy="325.6" rx="1.6" ry="1.1" fill="#a85a2c" opacity="0.4"/>
<rect x="483" y="315" width="21.0" height="17.5" rx="1.5" fill="#94441f"/>
<ellipse cx="492.9" cy="318.9" rx="1.9" ry="1.4" fill="#e8b27a" opacity="0.4"/>
<ellipse cx="490.4" cy="318.8" rx="3.5" ry="1.3" fill="#e2a56a" opacity="0.4"/>
<ellipse cx="496.2" cy="317.5" rx="4.3" ry="1.4" fill="#f0c090" opacity="0.4"/>
<ellipse cx="493.5" cy="318.4" rx="2.9" ry="1.8" fill="#9c5227" opacity="0.4"/>
<ellipse cx="497.1" cy="327.2" rx="2.5" ry="2.2" fill="#a85a2c" opacity="0.4"/>
<ellipse cx="492.8" cy="329.2" rx="2.9" ry="1.5" fill="#f0c090" opacity="0.4"/>
<rect x="418.2" y="312.4" width="15.0" height="1.8" fill="#e6dccb" opacity="0.8"/>
<rect x="411.1" y="312.4" width="10.8" height="1.8" fill="#e6dccb" opacity="0.8"/>
<rect x="394.5" y="312.4" width="14.9" height="1.8" fill="#e6dccb" opacity="0.8"/>
<rect x="374.8" y="312.4" width="5.6" height="1.8" fill="#e6dccb" opacity="0.8"/>
<rect x="446.4" y="312.4" width="14.9" height="1.8" fill="#e6dccb" opacity="0.8"/>
<rect x="447.6" y="312.4" width="11.6" height="1.8" fill="#e6dccb" opacity="0.8"/>
<rect x="451.1" y="312.4" width="8.4" height="1.8" fill="#e6dccb" opacity="0.8"/>
<rect x="316" y="335" width="18.0" height="17.0" rx="1.5" fill="#622c14"/>
<ellipse cx="326.5" cy="337.9" rx="4.5" ry="1.2" fill="#8f4a26" opacity="0.4"/>
<ellipse cx="331.0" cy="349.6" rx="3.9" ry="1.6" fill="#e8b27a" opacity="0.4"/>
<ellipse cx="320.8" cy="341.0" rx="4.8" ry="2.2" fill="#e8b27a" opacity="0.4"/>
<ellipse cx="333.0" cy="346.5" rx="3.8" ry="2.2" fill="#a85a2c" opacity="0.4"/>
<ellipse cx="323.7" cy="347.5" rx="3.8" ry="1.5" fill="#e2a56a" opacity="0.4"/>
<rect x="337" y="335" width="59.0" height="17.0" rx="1.5" fill="#713317"/>
<ellipse cx="345.0" cy="337.9" rx="4.3" ry="1.0" fill="#7d3f20" opacity="0.4"/>
<ellipse cx="368.6" cy="349.4" rx="2.5" ry="2.0" fill="#8f4a26" opacity="0.4"/>
<ellipse cx="339.4" cy="339.2" rx="4.6" ry="2.1" fill="#e8b27a" opacity="0.4"/>
<ellipse cx="360.6" cy="341.6" rx="2.3" ry="1.3" fill="#7d3f20" opacity="0.4"/>
<ellipse cx="363.9" cy="341.1" rx="3.2" ry="2.3" fill="#9c5227" opacity="0.4"/>
<ellipse cx="393.7" cy="343.1" rx="2.2" ry="2.2" fill="#e2a56a" opacity="0.4"/>
<ellipse cx="377.5" cy="337.8" rx="4.4" ry="1.4" fill="#9c5227" opacity="0.4"/>
<ellipse cx="364.9" cy="339.2" rx="5.0" ry="1.1" fill="#f0c090" opacity="0.4"/>
<ellipse cx="374.0" cy="339.5" rx="3.8" ry="1.3" fill="#8f4a26" opacity="0.4"/>
<ellipse cx="384.6" cy="349.5" rx="4.5" ry="1.9" fill="#9c5227" opacity="0.4"/>
<ellipse cx="345.7" cy="346.0" rx="3.1" ry="0.9" fill="#a85a2c" opacity="0.4"/>
<ellipse cx="350.7" cy="341.0" rx="3.9" ry="1.2" fill="#f0c090" opacity="0.4"/>
<ellipse cx="379.0" cy="343.5" rx="4.3" ry="1.4" fill="#9c5227" opacity="0.4"/>
<rect x="399" y="335" width="61.0" height="17.0" rx="1.5" fill="#713317"/>
<ellipse cx="439.1" cy="348.5" rx="3.3" ry="2.4" fill="#7d3f20" opacity="0.4"/>
<ellipse cx="452.8" cy="339.3" rx="2.5" ry="1.8" fill="#e2a56a" opacity="0.4"/>
<ellipse cx="405.3" cy="349.8" rx="4.7" ry="0.9" fill="#e8b27a" opacity="0.4"/>
<ellipse cx="453.5" cy="337.1" rx="2.5" ry="1.2" fill="#7d3f20" opacity="0.4"/>
<ellipse cx="447.4" cy="338.1" rx="5.0" ry="1.1" fill="#9c5227" opacity="0.4"/>
<ellipse cx="410.6" cy="346.5" rx="2.2" ry="2.2" fill="#8f4a26" opacity="0.4"/>
<ellipse cx="458.3" cy="337.4" rx="4.7" ry="1.7" fill="#e8b27a" opacity="0.4"/>
<ellipse cx="400.2" cy="348.6" rx="2.1" ry="1.7" fill="#8f4a26" opacity="0.4"/>
<ellipse cx="438.1" cy="341.7" rx="3.2" ry="0.9" fill="#f0c090" opacity="0.4"/>
<ellipse cx="417.2" cy="347.8" rx="3.9" ry="1.6" fill="#f0c090" opacity="0.4"/>
<ellipse cx="456.1" cy="339.3" rx="4.2" ry="1.0" fill="#a85a2c" opacity="0.4"/>
<ellipse cx="425.7" cy="345.7" rx="4.2" ry="2.1" fill="#7d3f20" opacity="0.4"/>
<ellipse cx="446.7" cy="340.1" rx="3.4" ry="2.2" fill="#e8b27a" opacity="0.4"/>
<ellipse cx="435.6" cy="340.4" rx="3.6" ry="1.9" fill="#e2a56a" opacity="0.4"/>
<rect x="463" y="335" width="41.0" height="17.0" rx="1.5" fill="#622c14"/>
<ellipse cx="486.3" cy="348.3" rx="2.6" ry="1.8" fill="#e2a56a" opacity="0.4"/>
<ellipse cx="487.7" cy="347.5" rx="3.0" ry="1.2" fill="#7d3f20" opacity="0.4"/>
<ellipse cx="495.1" cy="337.9" rx="3.5" ry="1.7" fill="#e2a56a" opacity="0.4"/>
<ellipse cx="494.9" cy="340.1" rx="1.7" ry="1.5" fill="#e2a56a" opacity="0.4"/>
<ellipse cx="491.1" cy="347.7" rx="3.3" ry="1.2" fill="#f0c090" opacity="0.4"/>
<ellipse cx="487.0" cy="338.2" rx="3.3" ry="1.4" fill="#a85a2c" opacity="0.4"/>
<ellipse cx="473.7" cy="343.5" rx="4.4" ry="2.1" fill="#f0c090" opacity="0.4"/>
<ellipse cx="466.4" cy="342.3" rx="3.9" ry="1.9" fill="#9c5227" opacity="0.4"/>
<ellipse cx="501.3" cy="338.7" rx="4.2" ry="2.4" fill="#a85a2c" opacity="0.4"/>
<ellipse cx="469.6" cy="342.9" rx="4.9" ry="0.8" fill="#f0c090" opacity="0.4"/>
<rect x="390.5" y="332.4" width="10.8" height="1.8" fill="#e6dccb" opacity="0.8"/>
<rect x="334.2" y="332.4" width="11.1" height="1.8" fill="#e6dccb" opacity="0.8"/>
<rect x="401.5" y="332.4" width="15.3" height="1.8" fill="#e6dccb" opacity="0.8"/>
<rect x="490.0" y="332.4" width="12.5" height="1.8" fill="#e6dccb" opacity="0.8"/>
<rect x="444.9" y="332.4" width="15.7" height="1.8" fill="#e6dccb" opacity="0.8"/>
<rect x="426.4" y="332.4" width="8.3" height="1.8" fill="#e6dccb" opacity="0.8"/>
<rect x="339.0" y="332.4" width="14.4" height="1.8" fill="#e6dccb" opacity="0.8"/>
</g>
<rect x="316" y="232" width="188" height="150" fill="url(#gBoxShade)"/>
<ellipse cx="410" cy="320" rx="95" ry="55" fill="url(#gFire)"/>
<path d="M316,338 Q340,326 380,330 Q410,322 440,330 Q480,326 504,338 L504,382 L316,382 Z" fill="#170a07" opacity="0.9" filter="url(#fBlur2)"/>
<ellipse cx="405" cy="298" rx="15" ry="20" fill="url(#gFlame)"/>
<ellipse cx="484" cy="302" rx="18" ry="14" fill="url(#gFlame)"/>
<ellipse cx="452" cy="284" rx="14" ry="10" fill="url(#gFlame)" opacity="0.55"/>
<ellipse cx="352" cy="300" rx="14" ry="12" fill="url(#gFlame)" opacity="0.45"/>
<path d="M478,300 Q486,290 492,296 Q497,301 493,308 Q486,312 480,308 Z" fill="#ffc860" opacity="0.75" filter="url(#fBlur2)"/>
<g filter="url(#fBlur1)">
<path d="M322,349 Q326,340 340,339 L368,338 Q384,342 386,352 L384,363 L322,364 Z" fill="url(#gAsh)"/>
<path d="M456,343 Q470,338 490,339 Q499,342 500,349 L500,362 L454,362 Z" fill="url(#gAsh)" opacity="0.92"/>
<path d="M358.4,355.6 l8.8,2.7" stroke="#4a382a" stroke-width="0.9" opacity="0.7"/>
<path d="M364.5,358.7 l4.2,0.3" stroke="#4a382a" stroke-width="0.9" opacity="0.7"/>
<path d="M375.1,354.0 l9.4,-1.4" stroke="#4a382a" stroke-width="0.9" opacity="0.7"/>
<path d="M350.4,347.2 l7.3,0.9" stroke="#4a382a" stroke-width="0.9" opacity="0.7"/>
<path d="M326.7,346.7 l5.7,2.6" stroke="#4a382a" stroke-width="0.9" opacity="0.7"/>
<path d="M365.8,345.7 l8.8,-1.3" stroke="#4a382a" stroke-width="0.9" opacity="0.7"/>
<path d="M358.1,345.2 l4.0,2.4" stroke="#4a382a" stroke-width="0.9" opacity="0.7"/>
<path d="M336.9,346.7 l9.9,2.4" stroke="#4a382a" stroke-width="0.9" opacity="0.7"/>
<path d="M341.0,359.3 l7.2,1.4" stroke="#4a382a" stroke-width="0.9" opacity="0.7"/>
<path d="M336.6,359.0 l8.1,2.8" stroke="#4a382a" stroke-width="0.9" opacity="0.7"/>
<path d="M488.4,348.8 l5.8,-1.2" stroke="#4a382a" stroke-width="0.9" opacity="0.7"/>
<path d="M463.0,345.0 l5.5,1.0" stroke="#4a382a" stroke-width="0.9" opacity="0.7"/>
<path d="M458.1,354.8 l5.7,-0.5" stroke="#4a382a" stroke-width="0.9" opacity="0.7"/>
<path d="M485.8,351.7 l5.6,0.4" stroke="#4a382a" stroke-width="0.9" opacity="0.7"/>
<path d="M482.0,344.9 l8.9,-1.9" stroke="#4a382a" stroke-width="0.9" opacity="0.7"/>
<path d="M483.5,357.5 l4.1,1.9" stroke="#4a382a" stroke-width="0.9" opacity="0.7"/>
<path d="M470.5,353.3 l4.0,-1.8" stroke="#4a382a" stroke-width="0.9" opacity="0.7"/>
<path d="M366,345 L374,331 L392,322 L418,319 L440,327 L449,339 L452,356 L380,359 Z" fill="#2a110a"/>
<path d="M327.5,331 L344,313.5 L379.7,294.2 L383,284.5 L391,284 L395.5,290 L393.5,299.7 L401.7,310.7 L390.7,327.2 L355,336.5 L335.7,336.5 Z" fill="url(#gLogL)"/>
<path d="M412.7,299.7 L416,291 L424,288.5 L432,296 L470.5,309.5 L487,310 L503.5,324.5 L503.5,339 L465,339 L432,325.5 L415.5,311.7 Z" fill="url(#gLogR)"/>
<ellipse cx="339.7" cy="320.2" rx="2.5" ry="1.5" fill="#3a120a" opacity="0.6"/>
<ellipse cx="366.6" cy="325.4" rx="1.2" ry="2.1" fill="#5a1a0c" opacity="0.6"/>
<ellipse cx="332.6" cy="325.7" rx="1.7" ry="1.2" fill="#3a120a" opacity="0.6"/>
<ellipse cx="384.7" cy="305.4" rx="2.1" ry="2.1" fill="#2a0e08" opacity="0.6"/>
<ellipse cx="339.0" cy="326.9" rx="1.4" ry="2.1" fill="#5a1a0c" opacity="0.6"/>
<ellipse cx="339.5" cy="322.2" rx="2.0" ry="1.1" fill="#2a0e08" opacity="0.6"/>
<ellipse cx="330.3" cy="329.5" rx="1.7" ry="1.9" fill="#3a120a" opacity="0.6"/>
<ellipse cx="377.5" cy="326.2" rx="2.5" ry="2.1" fill="#2a0e08" opacity="0.6"/>
<ellipse cx="369.1" cy="313.3" rx="2.0" ry="1.3" fill="#3a120a" opacity="0.6"/>
<ellipse cx="393.4" cy="305.5" rx="1.9" ry="1.5" fill="#5a1a0c" opacity="0.6"/>
<ellipse cx="347.2" cy="327.8" rx="1.5" ry="1.8" fill="#5a1a0c" opacity="0.6"/>
<ellipse cx="372.0" cy="311.4" rx="2.3" ry="1.3" fill="#2a0e08" opacity="0.6"/>
<ellipse cx="374.0" cy="327.8" rx="1.9" ry="1.9" fill="#5a1a0c" opacity="0.6"/>
<ellipse cx="376.3" cy="296.7" rx="3.0" ry="1.1" fill="#2a0e08" opacity="0.6"/>
<ellipse cx="371.3" cy="330.4" rx="2.2" ry="1.4" fill="#3a120a" opacity="0.6"/>
<ellipse cx="369.2" cy="307.1" rx="2.0" ry="1.9" fill="#3a120a" opacity="0.6"/>
<ellipse cx="389.6" cy="286.7" rx="1.7" ry="1.3" fill="#5a1a0c" opacity="0.6"/>
<ellipse cx="392.1" cy="317.9" rx="1.5" ry="1.1" fill="#2a0e08" opacity="0.6"/>
<ellipse cx="398.6" cy="311.6" rx="2.7" ry="0.9" fill="#3a120a" opacity="0.6"/>
<ellipse cx="394.2" cy="303.2" rx="1.5" ry="1.4" fill="#5a1a0c" opacity="0.6"/>
<ellipse cx="363.4" cy="331.4" rx="2.2" ry="1.1" fill="#2a0e08" opacity="0.6"/>
<ellipse cx="348.0" cy="324.3" rx="1.2" ry="1.8" fill="#2a0e08" opacity="0.6"/>
<ellipse cx="375.3" cy="328.7" rx="2.4" ry="1.2" fill="#5a1a0c" opacity="0.6"/>
<ellipse cx="383.3" cy="326.6" rx="1.5" ry="1.1" fill="#5a1a0c" opacity="0.6"/>
<ellipse cx="391.9" cy="318.4" rx="1.5" ry="1.6" fill="#5a1a0c" opacity="0.6"/>
<ellipse cx="356.9" cy="330.6" rx="2.4" ry="1.1" fill="#5a1a0c" opacity="0.6"/>
<ellipse cx="342.5" cy="323.1" rx="2.7" ry="1.7" fill="#2a0e08" opacity="0.6"/>
<ellipse cx="392.3" cy="324.6" rx="2.8" ry="0.9" fill="#5a1a0c" opacity="0.6"/>
<ellipse cx="391.6" cy="304.9" rx="2.3" ry="2.0" fill="#3a120a" opacity="0.6"/>
<ellipse cx="346.3" cy="320.6" rx="1.8" ry="1.0" fill="#5a1a0c" opacity="0.6"/>
<ellipse cx="429.4" cy="294.6" rx="2.5" ry="1.3" fill="#3a120a" opacity="0.6"/>
<ellipse cx="441.7" cy="318.9" rx="3.1" ry="1.8" fill="#5a1a0c" opacity="0.6"/>
<ellipse cx="492.7" cy="318.3" rx="1.8" ry="1.1" fill="#3a120a" opacity="0.6"/>
<ellipse cx="465.6" cy="335.9" rx="2.7" ry="2.1" fill="#2a0e08" opacity="0.6"/>
<ellipse cx="418.3" cy="305.0" rx="1.9" ry="1.1" fill="#5a1a0c" opacity="0.6"/>
<ellipse cx="441.1" cy="327.9" rx="3.1" ry="1.7" fill="#3a120a" opacity="0.6"/>
<ellipse cx="438.1" cy="302.2" rx="2.6" ry="1.5" fill="#5a1a0c" opacity="0.6"/>
<ellipse cx="459.7" cy="309.2" rx="2.5" ry="2.1" fill="#5a1a0c" opacity="0.6"/>
<ellipse cx="463.8" cy="308.6" rx="1.3" ry="1.6" fill="#2a0e08" opacity="0.6"/>
<ellipse cx="462.0" cy="310.4" rx="2.5" ry="1.6" fill="#3a120a" opacity="0.6"/>
<ellipse cx="420.9" cy="310.9" rx="1.4" ry="1.9" fill="#3a120a" opacity="0.6"/>
<ellipse cx="497.1" cy="336.6" rx="2.2" ry="1.4" fill="#3a120a" opacity="0.6"/>
<ellipse cx="415.4" cy="307.5" rx="1.6" ry="2.1" fill="#2a0e08" opacity="0.6"/>
<ellipse cx="461.3" cy="328.7" rx="2.5" ry="1.2" fill="#2a0e08" opacity="0.6"/>
<ellipse cx="421.9" cy="298.4" rx="1.4" ry="1.1" fill="#2a0e08" opacity="0.6"/>
<ellipse cx="454.5" cy="331.2" rx="2.2" ry="1.6" fill="#2a0e08" opacity="0.6"/>
<ellipse cx="438.5" cy="323.0" rx="2.9" ry="1.5" fill="#3a120a" opacity="0.6"/>
<ellipse cx="483.9" cy="329.9" rx="2.4" ry="2.1" fill="#3a120a" opacity="0.6"/>
<ellipse cx="429.7" cy="306.2" rx="1.3" ry="1.0" fill="#2a0e08" opacity="0.6"/>
<ellipse cx="475.5" cy="310.4" rx="1.7" ry="1.0" fill="#3a120a" opacity="0.6"/>
<ellipse cx="432.3" cy="301.4" rx="2.9" ry="1.1" fill="#5a1a0c" opacity="0.6"/>
<ellipse cx="481.0" cy="317.8" rx="2.4" ry="1.4" fill="#3a120a" opacity="0.6"/>
<ellipse cx="479.4" cy="335.2" rx="2.9" ry="0.9" fill="#5a1a0c" opacity="0.6"/>
<ellipse cx="489.1" cy="320.0" rx="1.6" ry="1.9" fill="#2a0e08" opacity="0.6"/>
<ellipse cx="447.4" cy="326.4" rx="2.6" ry="1.5" fill="#3a120a" opacity="0.6"/>
<ellipse cx="496.5" cy="335.5" rx="2.3" ry="1.1" fill="#2a0e08" opacity="0.6"/>
<ellipse cx="427.1" cy="302.6" rx="2.9" ry="1.8" fill="#5a1a0c" opacity="0.6"/>
<ellipse cx="470.1" cy="338.3" rx="2.9" ry="1.2" fill="#2a0e08" opacity="0.6"/>
<ellipse cx="451.7" cy="306.4" rx="1.7" ry="2.2" fill="#2a0e08" opacity="0.6"/>
<ellipse cx="485.6" cy="333.6" rx="2.3" ry="1.4" fill="#2a0e08" opacity="0.6"/>
<ellipse cx="436.6" cy="301.6" rx="2.3" ry="1.4" fill="#2a0e08" opacity="0.6"/>
<ellipse cx="457.7" cy="313.7" rx="1.5" ry="1.6" fill="#5a1a0c" opacity="0.6"/>
<ellipse cx="449.5" cy="332.6" rx="2.7" ry="1.4" fill="#2a0e08" opacity="0.6"/>
<ellipse cx="460.5" cy="324.2" rx="1.4" ry="2.1" fill="#5a1a0c" opacity="0.6"/>
<path d="M380.5,294.5 L383,284.5 L391,284 L395.5,290 L393.5,299 Z" fill="#25100a"/>
<path d="M412.7,299.7 L416,291 L424,288.5 L431,295.5 L422,304.5 Z" fill="#25100a"/>
<path d="M334.6,323.9 L340.1,320.3 L345.6,318.3 L352.1,314.2 L361.1,309.7 L366.2,306.1 L371.2,304.2 L380.1,299.0" fill="none" stroke="#ffa62a" stroke-width="1.2" stroke-linejoin="round"/>
<path d="M334.3,328.3 L341.2,324.2 L347.6,321.9 L355.5,317.9 L363.1,313.8 L371.4,307.6 L379.1,302.9 L387.2,300.0" fill="none" stroke="#ffc23c" stroke-width="1.0" stroke-linejoin="round"/>
<path d="M336.2,332.5 L343.7,328.4 L348.6,324.8 L356.7,321.4 L362.8,318.2 L369.0,314.9 L377.4,311.0 L382.7,307.2 L390.3,303.6" fill="none" stroke="#ffc23c" stroke-width="0.8" stroke-linejoin="round"/>
<path d="M341.0,335.2 L346.1,332.4 L352.7,327.6 L358.3,325.2 L364.3,321.8 L370.8,318.3 L376.6,315.4 L384.7,311.7 L390.9,308.3" fill="none" stroke="#ffc23c" stroke-width="1.1" stroke-linejoin="round"/>
<path d="M349.7,334.9 L354.9,332.2 L362.2,328.3 L367.8,324.6 L374.7,321.2 L380.3,317.5 L387.0,314.8 L394.2,311.2" fill="none" stroke="#ffb432" stroke-width="1.1" stroke-linejoin="round"/>
<path d="M364.5,312.5 L366.8,315.6" stroke="#ff8a1c" stroke-width="1.1" stroke-linecap="round"/>
<path d="M388.4,295.6 L390.8,298.1" stroke="#ffb432" stroke-width="1.0" stroke-linecap="round"/>
<path d="M393.5,311.4 L396.1,316.9" stroke="#ff8a1c" stroke-width="0.9" stroke-linecap="round"/>
<path d="M344.0,328.7 L346.5,331.1" stroke="#ffd65a" stroke-width="0.9" stroke-linecap="round"/>
<path d="M391.5,305.6 L393.8,308.7" stroke="#ffb432" stroke-width="1.0" stroke-linecap="round"/>
<path d="M378.8,299.4 L381.0,301.9" stroke="#ffb432" stroke-width="0.8" stroke-linecap="round"/>
<path d="M348.5,320.8 L352.5,325.4" stroke="#ff8a1c" stroke-width="0.9" stroke-linecap="round"/>
<path d="M368.5,313.0 L371.9,317.4" stroke="#ffd65a" stroke-width="1.0" stroke-linecap="round"/>
<path d="M360.9,318.9 L364.9,322.8" stroke="#ff8a1c" stroke-width="1.1" stroke-linecap="round"/>
<path d="M377.7,310.8 L380.6,314.2" stroke="#ff8a1c" stroke-width="0.9" stroke-linecap="round"/>
<path d="M374.7,314.1 L377.2,317.2" stroke="#ffc23c" stroke-width="0.9" stroke-linecap="round"/>
<path d="M339.4,319.2 L341.1,324.3" stroke="#ffd65a" stroke-width="0.8" stroke-linecap="round"/>
<path d="M359.4,322.8 L362.4,327.6" stroke="#ffb432" stroke-width="0.7" stroke-linecap="round"/>
<path d="M383.0,296.9 L384.6,301.6" stroke="#ffc23c" stroke-width="0.9" stroke-linecap="round"/>
<path d="M376.1,310.3 L377.7,313.4" stroke="#ff7a18" stroke-width="1.0" stroke-linecap="round"/>
<path d="M379.9,302.6 L382.1,304.8" stroke="#ffc23c" stroke-width="0.9" stroke-linecap="round"/>
<path d="M391.0,310.2 L392.7,313.3" stroke="#ff8a1c" stroke-width="1.2" stroke-linecap="round"/>
<path d="M382.1,316.4 L384.6,320.3" stroke="#ff8a1c" stroke-width="1.1" stroke-linecap="round"/>
<path d="M365.2,307.7 L368.6,311.1" stroke="#ffa62a" stroke-width="0.8" stroke-linecap="round"/>
<path d="M359.5,320.9 L361.3,325.3" stroke="#ff6a12" stroke-width="0.8" stroke-linecap="round"/>
<path d="M378.7,317.9 L381.4,323.6" stroke="#ffb432" stroke-width="0.7" stroke-linecap="round"/>
<path d="M394.3,303.0 L397.1,306.7" stroke="#ffd65a" stroke-width="1.1" stroke-linecap="round"/>
<path d="M385.8,295.6 L387.4,299.0" stroke="#ffb432" stroke-width="0.7" stroke-linecap="round"/>
<path d="M395.2,304.4 L396.8,308.5" stroke="#ff6a12" stroke-width="0.8" stroke-linecap="round"/>
<path d="M375.5,322.1 L376.5,326.7" stroke="#ff6a12" stroke-width="1.0" stroke-linecap="round"/>
<path d="M391.5,300.9 L395.0,305.1" stroke="#ff7a18" stroke-width="1.0" stroke-linecap="round"/>
<path d="M374.3,322.4 L377.6,326.4" stroke="#ff6a12" stroke-width="1.1" stroke-linecap="round"/>
<path d="M341.6,320.3 L342.9,325.6" stroke="#ffd65a" stroke-width="1.2" stroke-linecap="round"/>
<path d="M374.0,321.0 L375.0,323.8" stroke="#ffa62a" stroke-width="1.0" stroke-linecap="round"/>
<path d="M352.3,317.7 L353.5,322.9" stroke="#ffc23c" stroke-width="1.0" stroke-linecap="round"/>
<path d="M386.6,307.9 L387.6,312.6" stroke="#ffa62a" stroke-width="0.9" stroke-linecap="round"/>
<path d="M355.4,329.7 L356.8,332.7" stroke="#ffa62a" stroke-width="0.9" stroke-linecap="round"/>
<path d="M377.5,302.0 L380.6,307.7" stroke="#ffd65a" stroke-width="0.8" stroke-linecap="round"/>
<path d="M374.1,322.0 L377.7,325.6" stroke="#ff7a18" stroke-width="0.7" stroke-linecap="round"/>
<path d="M393.7,308.5 L397.9,312.9" stroke="#ffa62a" stroke-width="1.1" stroke-linecap="round"/>
<path d="M376.7,317.6 L378.4,319.8" stroke="#ffc23c" stroke-width="0.8" stroke-linecap="round"/>
<path d="M345.5,322.0 L346.7,325.1" stroke="#ffb432" stroke-width="0.7" stroke-linecap="round"/>
<path d="M386.8,297.6 L388.5,299.7" stroke="#ff8a1c" stroke-width="1.1" stroke-linecap="round"/>
<path d="M423.1,291.7 L431.6,296.7 L447.1,302.8 L458.9,305.8 L468.6,311.0 L476.2,313.0 L484.5,316.9 L495.8,321.2" fill="none" stroke="#ffb432" stroke-width="1.2" stroke-linejoin="round"/>
<path d="M424.2,297.0 L432.8,300.6 L444.5,305.8 L452.7,309.2 L462.9,312.0 L472.9,315.6 L484.2,320.4" fill="none" stroke="#ffa62a" stroke-width="0.9" stroke-linejoin="round"/>
<path d="M421.8,300.5 L432.8,304.5 L440.1,308.7 L450.8,312.7 L459.3,314.3 L469.4,318.5 L480.5,322.9 L488.9,325.2" fill="none" stroke="#ffa62a" stroke-width="1.1" stroke-linejoin="round"/>
<path d="M422.7,307.3 L430.6,309.1 L438.8,312.2 L448.1,315.7 L456.2,319.4 L467.2,323.2 L478.9,328.1 L490.3,333.0" fill="none" stroke="#ff6a12" stroke-width="0.9" stroke-linejoin="round"/>
<path d="M423.5,312.5 L434.2,316.5 L445.0,321.3 L456.4,325.9 L466.9,328.0 L479.6,332.6 L489.3,338.3" fill="none" stroke="#ffa62a" stroke-width="0.8" stroke-linejoin="round"/>
<path d="M492.8,320.1 L489.9,325.1" stroke="#ffa62a" stroke-width="1.0" stroke-linecap="round"/>
<path d="M492.4,321.9 L491.0,326.9" stroke="#ffd65a" stroke-width="1.1" stroke-linecap="round"/>
<path d="M458.1,316.2 L457.9,318.8" stroke="#ffd65a" stroke-width="0.8" stroke-linecap="round"/>
<path d="M467.1,313.5 L466.6,319.1" stroke="#ff8a1c" stroke-width="1.1" stroke-linecap="round"/>
<path d="M427.7,305.0 L425.6,308.5" stroke="#ffc23c" stroke-width="0.9" stroke-linecap="round"/>
<path d="M478.1,331.2 L477.7,335.2" stroke="#ffd65a" stroke-width="1.1" stroke-linecap="round"/>
<path d="M446.3,322.3 L444.3,326.0" stroke="#ff6a12" stroke-width="0.7" stroke-linecap="round"/>
<path d="M492.6,321.9 L490.6,325.0" stroke="#ff6a12" stroke-width="0.8" stroke-linecap="round"/>
<path d="M466.0,315.7 L464.5,318.5" stroke="#ffc23c" stroke-width="0.9" stroke-linecap="round"/>
<path d="M447.5,312.5 L444.7,317.9" stroke="#ff8a1c" stroke-width="1.0" stroke-linecap="round"/>
<path d="M433.7,297.6 L431.4,302.7" stroke="#ffd65a" stroke-width="0.7" stroke-linecap="round"/>
<path d="M438.0,315.8 L436.0,319.2" stroke="#ffb432" stroke-width="1.0" stroke-linecap="round"/>
<path d="M473.5,323.9 L471.4,327.0" stroke="#ff6a12" stroke-width="1.1" stroke-linecap="round"/>
<path d="M462.6,327.1 L461.1,331.4" stroke="#ffd65a" stroke-width="0.9" stroke-linecap="round"/>
<path d="M430.3,311.1 L428.6,314.7" stroke="#ffa62a" stroke-width="0.9" stroke-linecap="round"/>
<path d="M467.5,323.1 L466.3,327.9" stroke="#ffc23c" stroke-width="0.8" stroke-linecap="round"/>
<path d="M482.2,328.7 L481.6,334.7" stroke="#ff7a18" stroke-width="1.2" stroke-linecap="round"/>
<path d="M434.3,310.0 L433.4,313.7" stroke="#ff8a1c" stroke-width="1.0" stroke-linecap="round"/>
<path d="M460.5,322.2 L459.7,325.0" stroke="#ffb432" stroke-width="1.2" stroke-linecap="round"/>
<path d="M433.1,308.0 L431.4,312.1" stroke="#ff8a1c" stroke-width="1.1" stroke-linecap="round"/>
<path d="M500.0,322.9 L497.7,327.4" stroke="#ff7a18" stroke-width="0.8" stroke-linecap="round"/>
<path d="M481.8,328.2 L479.0,333.4" stroke="#ffd65a" stroke-width="0.8" stroke-linecap="round"/>
<path d="M461.8,310.7 L459.8,314.2" stroke="#ffd65a" stroke-width="1.0" stroke-linecap="round"/>
<path d="M487.0,321.7 L486.7,325.8" stroke="#ffa62a" stroke-width="1.1" stroke-linecap="round"/>
<path d="M456.8,316.5 L455.1,322.0" stroke="#ff6a12" stroke-width="1.0" stroke-linecap="round"/>
<path d="M436.8,297.8 L432.9,302.9" stroke="#ffc23c" stroke-width="1.0" stroke-linecap="round"/>
<path d="M448.8,302.9 L448.2,306.4" stroke="#ff6a12" stroke-width="1.1" stroke-linecap="round"/>
<path d="M484.9,317.9 L484.0,321.2" stroke="#ff8a1c" stroke-width="0.8" stroke-linecap="round"/>
<path d="M481.9,328.7 L479.1,332.4" stroke="#ffc23c" stroke-width="0.7" stroke-linecap="round"/>
<path d="M438.7,313.9 L436.7,316.6" stroke="#ff8a1c" stroke-width="0.8" stroke-linecap="round"/>
<path d="M474.6,327.0 L471.6,331.2" stroke="#ff7a18" stroke-width="1.1" stroke-linecap="round"/>
<path d="M463.8,322.1 L461.7,327.1" stroke="#ffd65a" stroke-width="0.9" stroke-linecap="round"/>
<path d="M439.7,304.1 L438.4,308.4" stroke="#ffa62a" stroke-width="1.1" stroke-linecap="round"/>
<path d="M442.2,307.1 L439.3,311.5" stroke="#ffc23c" stroke-width="0.8" stroke-linecap="round"/>
<path d="M422.6,312.9 L421.0,316.1" stroke="#ffc23c" stroke-width="1.2" stroke-linecap="round"/>
<path d="M435.8,299.4 L432.7,304.4" stroke="#ffa62a" stroke-width="0.8" stroke-linecap="round"/>
<path d="M455.0,319.6 L452.3,325.0" stroke="#ff7a18" stroke-width="0.9" stroke-linecap="round"/>
<path d="M485.2,333.4 L484.6,338.2" stroke="#ffd65a" stroke-width="1.2" stroke-linecap="round"/>
<path d="M446.1,320.7 L444.3,326.2" stroke="#ff7a18" stroke-width="0.7" stroke-linecap="round"/>
<path d="M472.7,315.6 L470.0,320.9" stroke="#ffc23c" stroke-width="1.1" stroke-linecap="round"/>
<path d="M456.3,322.4 L455.6,328.1" stroke="#ffa62a" stroke-width="1.1" stroke-linecap="round"/>
<path d="M489.3,331.0 L487.1,335.8" stroke="#ffd65a" stroke-width="0.9" stroke-linecap="round"/>
<path d="M385.5,357.5 L388.2,357.7" stroke="#e8480c" stroke-width="0.9" stroke-linecap="round"/>
<path d="M421.2,337.4 L426.2,338.5" stroke="#d8400a" stroke-width="0.8" stroke-linecap="round"/>
<path d="M388.9,335.3 L393.9,337.7" stroke="#ff6a12" stroke-width="1.5" stroke-linecap="round"/>
<path d="M371.4,343.8 L374.2,343.9" stroke="#e8480c" stroke-width="1.3" stroke-linecap="round"/>
<path d="M408.8,345.0 L411.7,346.1" stroke="#ff6a12" stroke-width="1.1" stroke-linecap="round"/>
<path d="M369.2,347.1 L373.4,350.0" stroke="#ff7a18" stroke-width="1.4" stroke-linecap="round"/>
<path d="M390.6,333.3 L396.5,333.5" stroke="#ff6a12" stroke-width="1.1" stroke-linecap="round"/>
<path d="M393.0,333.3 L390.5,337.4" stroke="#e8480c" stroke-width="0.9" stroke-linecap="round"/>
<path d="M396.6,330.4 L396.6,336.9" stroke="#ff7a18" stroke-width="1.4" stroke-linecap="round"/>
<path d="M412.9,332.8 L416.3,333.3" stroke="#ff6a12" stroke-width="1.0" stroke-linecap="round"/>
<path d="M398.4,352.4 L402.7,352.7" stroke="#e8480c" stroke-width="1.4" stroke-linecap="round"/>
<path d="M376.0,350.9 L379.2,351.5" stroke="#d8400a" stroke-width="1.4" stroke-linecap="round"/>
<path d="M378.0,341.6 L383.0,342.8" stroke="#ff8a1c" stroke-width="1.3" stroke-linecap="round"/>
<path d="M446.5,338.5 L448.8,340.2" stroke="#ff6a12" stroke-width="1.4" stroke-linecap="round"/>
<path d="M395.3,345.3 L398.9,347.2" stroke="#ff8a1c" stroke-width="0.7" stroke-linecap="round"/>
<path d="M437.9,327.4 L438.1,334.2" stroke="#ff7a18" stroke-width="0.8" stroke-linecap="round"/>
<path d="M395.0,336.2 L400.3,336.3" stroke="#d8400a" stroke-width="1.3" stroke-linecap="round"/>
<path d="M434.0,334.2 L438.2,335.8" stroke="#e8480c" stroke-width="1.3" stroke-linecap="round"/>
<path d="M410.2,322.6 L416.1,324.7" stroke="#d8400a" stroke-width="0.9" stroke-linecap="round"/>
<path d="M383.0,336.8 L385.5,337.1" stroke="#ff7a18" stroke-width="1.2" stroke-linecap="round"/>
<path d="M403.2,322.7 L401.0,327.0" stroke="#ff7a18" stroke-width="0.9" stroke-linecap="round"/>
<path d="M385.7,340.0 L384.7,343.2" stroke="#ff8a1c" stroke-width="1.2" stroke-linecap="round"/>
<path d="M444.2,348.7 L448.0,349.1" stroke="#ff7a18" stroke-width="1.0" stroke-linecap="round"/>
<path d="M430.0,351.3 L427.5,355.4" stroke="#ff8a1c" stroke-width="1.3" stroke-linecap="round"/>
<path d="M391.4,352.8 L395.5,354.0" stroke="#ff7a18" stroke-width="1.4" stroke-linecap="round"/>
<path d="M392.8,330.6 L391.4,337.1" stroke="#ff7a18" stroke-width="1.4" stroke-linecap="round"/>
<path d="M428.6,351.8 L426.7,357.0" stroke="#e8480c" stroke-width="1.1" stroke-linecap="round"/>
<path d="M411.5,352.5 L416.2,352.8" stroke="#ff8a1c" stroke-width="1.5" stroke-linecap="round"/>
<path d="M433.1,344.0 L436.1,346.2" stroke="#ff7a18" stroke-width="0.9" stroke-linecap="round"/>
<path d="M387.0,328.8 L392.2,331.7" stroke="#e8480c" stroke-width="0.9" stroke-linecap="round"/>
<path d="M435.7,340.0 L441.6,341.2" stroke="#ff6a12" stroke-width="1.0" stroke-linecap="round"/>
<path d="M422.3,350.2 L427.3,353.6" stroke="#e8480c" stroke-width="0.7" stroke-linecap="round"/>
<path d="M382.4,329.6 L388.6,331.3" stroke="#ff8a1c" stroke-width="1.4" stroke-linecap="round"/>
<path d="M374.0,343.3 L374.0,349.3" stroke="#ff6a12" stroke-width="1.4" stroke-linecap="round"/>
<path d="M422.2,333.6 L427.2,336.5" stroke="#ff7a18" stroke-width="1.3" stroke-linecap="round"/>
<path d="M385.1,348.8 L391.7,348.7" stroke="#ff7a18" stroke-width="1.0" stroke-linecap="round"/>
<path d="M379.7,329.2 L385.5,329.5" stroke="#ff6a12" stroke-width="0.8" stroke-linecap="round"/>
<path d="M385.1,330.7 L388.5,331.4" stroke="#ff6a12" stroke-width="0.7" stroke-linecap="round"/>
<path d="M433.6,326.1 L437.4,327.4" stroke="#e8480c" stroke-width="1.3" stroke-linecap="round"/>
<path d="M407.2,341.5 L412.5,345.6" stroke="#e8480c" stroke-width="0.9" stroke-linecap="round"/>
<path d="M384.8,326.0 L387.2,327.2" stroke="#d8400a" stroke-width="1.2" stroke-linecap="round"/>
<path d="M418.8,335.6 L424.9,337.9" stroke="#ff8a1c" stroke-width="1.3" stroke-linecap="round"/>
<path d="M397.5,352.8 L397.2,356.4" stroke="#d8400a" stroke-width="1.4" stroke-linecap="round"/>
<path d="M438.2,330.1 L435.3,334.0" stroke="#ff7a18" stroke-width="0.9" stroke-linecap="round"/>
<path d="M384.7,340.1 L389.4,342.8" stroke="#ff6a12" stroke-width="0.9" stroke-linecap="round"/>
<path d="M409.6,330.8 L414.4,333.1" stroke="#e8480c" stroke-width="1.4" stroke-linecap="round"/>
<path d="M441.4,333.9 L441.6,339.1" stroke="#ff8a1c" stroke-width="1.5" stroke-linecap="round"/>
<path d="M421.6,338.1 L420.8,342.2" stroke="#d8400a" stroke-width="1.0" stroke-linecap="round"/>
<path d="M420.1,320.5 L424.6,323.6" stroke="#ff8a1c" stroke-width="0.7" stroke-linecap="round"/>
<path d="M391.9,344.9 L397.1,347.7" stroke="#ff7a18" stroke-width="1.2" stroke-linecap="round"/>
<path d="M405.1,330.9 L408.9,333.2" stroke="#ff6a12" stroke-width="1.1" stroke-linecap="round"/>
<path d="M422.2,332.6 L420.5,335.1" stroke="#ff7a18" stroke-width="1.2" stroke-linecap="round"/>
<path d="M397.1,341.9 L402.5,343.8" stroke="#e8480c" stroke-width="1.3" stroke-linecap="round"/>
<path d="M409.4,320.4 L406.5,325.6" stroke="#e8480c" stroke-width="0.8" stroke-linecap="round"/>
<path d="M404.1,352.2 L410.9,353.3" stroke="#ff6a12" stroke-width="1.3" stroke-linecap="round"/>
<path d="M415.5,344.6 L419.0,344.6" stroke="#ff8a1c" stroke-width="1.4" stroke-linecap="round"/>
<path d="M410.4,327.1 L408.2,330.9" stroke="#ff6a12" stroke-width="1.0" stroke-linecap="round"/>
<path d="M423.2,332.8 L422.5,335.5" stroke="#d8400a" stroke-width="1.3" stroke-linecap="round"/>
<path d="M371.5,338.5 L371.4,341.3" stroke="#ff8a1c" stroke-width="0.9" stroke-linecap="round"/>
<path d="M410.9,343.1 L415.9,345.9" stroke="#e8480c" stroke-width="0.9" stroke-linecap="round"/>
</g>
<rect x="316" y="300" width="22" height="82" fill="url(#gSideL)"/>
<rect x="488" y="318" width="16" height="64" fill="url(#gSideR)"/>
<rect x="318" y="356" width="186" height="12" fill="#2e0e06"/>
<g filter="url(#fBlur1)">
<rect x="332.0" y="357.4" width="7.3" height="5.7" rx="2" fill="#ffcc50"/>
<rect x="343.0" y="359.6" width="6.7" height="5.3" rx="2" fill="#ff5a10"/>
<rect x="352.9" y="359.0" width="8.1" height="5.7" rx="2" fill="#ff7a18"/>
<rect x="365.8" y="357.1" width="9.8" height="6.0" rx="2" fill="#ff5a10"/>
<rect x="377.0" y="356.7" width="7.5" height="7.8" rx="2" fill="#e8400c"/>
<rect x="388.7" y="357.2" width="9.4" height="5.9" rx="2" fill="#ffcc50"/>
<rect x="402.3" y="357.4" width="9.4" height="5.8" rx="2" fill="#f06010"/>
<rect x="413.9" y="359.0" width="9.0" height="5.0" rx="2" fill="#ffa030"/>
<rect x="425.6" y="358.2" width="9.5" height="5.1" rx="2" fill="#f06010"/>
<rect x="437.7" y="359.9" width="9.5" height="5.0" rx="2" fill="#ff7a18"/>
<rect x="451.3" y="357.2" width="6.0" height="5.0" rx="2" fill="#f06010"/>
<rect x="458.7" y="358.3" width="7.7" height="7.3" rx="2" fill="#ff7a18"/>
<rect x="469.5" y="357.9" width="6.0" height="7.6" rx="2" fill="#ff7a18"/>
<rect x="476.9" y="359.8" width="7.9" height="7.9" rx="2" fill="#ffa030"/>
<rect x="485.9" y="358.6" width="6.3" height="5.6" rx="2" fill="#ffb840"/>
</g>
<rect x="332.5" y="356" width="3.2" height="12" fill="#17120f"/>
<rect x="345.1" y="356" width="3.2" height="12" fill="#17120f"/>
<rect x="357.7" y="356" width="3.2" height="12" fill="#17120f"/>
<rect x="370.3" y="356" width="3.2" height="12" fill="#17120f"/>
<rect x="382.9" y="356" width="3.2" height="12" fill="#17120f"/>
<rect x="395.5" y="356" width="3.2" height="12" fill="#17120f"/>
<rect x="408.1" y="356" width="3.2" height="12" fill="#17120f"/>
<rect x="420.7" y="356" width="3.2" height="12" fill="#17120f"/>
<rect x="433.3" y="356" width="3.2" height="12" fill="#17120f"/>
<rect x="445.9" y="356" width="3.2" height="12" fill="#17120f"/>
<rect x="458.5" y="356" width="3.2" height="12" fill="#17120f"/>
<rect x="471.1" y="356" width="3.2" height="12" fill="#17120f"/>
<rect x="483.7" y="356" width="3.2" height="12" fill="#17120f"/>
<rect x="318" y="366.6" width="186" height="4.6" fill="#15110f"/>
<rect x="316" y="371.2" width="188" height="11" fill="#240c06"/>
<g filter="url(#fBlur1)">
<rect x="322.0" y="374.3" width="9.0" height="4.8" rx="1.5" fill="#ff7a18"/>
<rect x="334.8" y="375.3" width="4.4" height="4.8" rx="1.5" fill="#ffa030"/>
<rect x="342.7" y="375.9" width="6.1" height="3.2" rx="1.5" fill="#ffa030"/>
<rect x="350.5" y="374.9" width="8.2" height="3.5" rx="1.5" fill="#ffa030"/>
<rect x="359.9" y="374.0" width="8.7" height="5.0" rx="1.5" fill="#a82808"/>
<rect x="370.2" y="374.6" width="5.6" height="3.7" rx="1.5" fill="#e8400c"/>
<rect x="379.2" y="374.3" width="4.8" height="5.0" rx="1.5" fill="#ff5a10"/>
<rect x="384.6" y="375.1" width="7.7" height="3.9" rx="1.5" fill="#d8380a"/>
<rect x="395.5" y="375.1" width="6.4" height="3.6" rx="1.5" fill="#ff7a18"/>
<rect x="405.8" y="376.4" width="5.4" height="4.4" rx="1.5" fill="#ff5a10"/>
<rect x="412.2" y="376.1" width="4.7" height="3.6" rx="1.5" fill="#a82808"/>
<rect x="417.6" y="374.7" width="8.9" height="3.4" rx="1.5" fill="#e8400c"/>
<rect x="427.4" y="374.2" width="3.9" height="3.5" rx="1.5" fill="#ff7a18"/>
<rect x="433.1" y="374.9" width="6.7" height="3.4" rx="1.5" fill="#d8380a"/>
<rect x="442.3" y="375.9" width="3.8" height="3.7" rx="1.5" fill="#ff7a18"/>
<rect x="447.0" y="375.8" width="5.5" height="4.9" rx="1.5" fill="#e8400c"/>
<rect x="454.4" y="375.7" width="8.3" height="3.7" rx="1.5" fill="#e8400c"/>
<rect x="465.3" y="374.2" width="6.7" height="3.1" rx="1.5" fill="#ff5a10"/>
<rect x="474.3" y="376.1" width="4.0" height="3.4" rx="1.5" fill="#a82808"/>
<rect x="481.6" y="374.4" width="8.2" height="4.1" rx="1.5" fill="#e8400c"/>
<rect x="492.2" y="375.4" width="5.3" height="4.5" rx="1.5" fill="#e8400c"/>
<rect x="498.9" y="374.1" width="3.4" height="5.5" rx="1.5" fill="#a82808"/>
</g>
</g>
<rect x="453.5" y="395.5" width="12.5" height="9" rx="2" fill="#ff2040" opacity="0.2" filter="url(#fBlur2)"/>
<text x="459.8" y="403.2" font-size="8" fill="#ff3a4e" style="font-family:&quot;Liberation Mono&quot;,monospace" font-weight="bold" text-anchor="middle" letter-spacing="-0.4">82</text>
<g fill="#7a7d84"><circle cx="468" cy="392.5" r="0.7"/><circle cx="473" cy="392.5" r="0.7"/><circle cx="478" cy="392.5" r="0.7"/><circle cx="483" cy="392.5" r="0.7"/></g>
<path d="M303,195.3 L518,195.3 L537,209.5 L282,209.5 Z" fill="url(#gLidH)"/>
<path d="M301.5,197.6 L519.5,197.6 L520.5,198.5 L300.5,198.5 Z" fill="#414245" opacity="0.55"/>
<path d="M298,200 L523,200 L524,200.9 L297,200.9 Z" fill="#414245" opacity="0.5"/>
<path d="M287,205.8 L532,205.8 L537,209.5 L282,209.5 Z" fill="url(#gLidF)"/>
<path d="M282,209.3 L537,209.3 Q538,209.5 538,211 L538,216.5 Q538,218.8 536,218.8 L284,218.8 Q282,218.8 282,216.5 Z" fill="url(#gRim)"/>
<path d="M304,414 L519,413 L536,423.5 L536,427.5 Q410,432.5 282,427.5 L282,423.5 Z" fill="#202123"/>
<path d="M305,416.3 Q410,418.3 520,415.6" stroke="#57595d" stroke-width="1.1" fill="none" opacity="0.85"/>
<path d="M284,424 Q410,428.5 535,424" stroke="#393b3f" stroke-width="1" fill="none"/>
<path d="M329,428.5 L491,428.5 L489,445.5 L331,445.5 Z" fill="#1d1d20"/>
<rect x="349" y="431" width="122" height="3" fill="#b84a1c" opacity="0.7"/>
<rect x="349" y="434.6" width="122" height="9.2" fill="url(#gGlow)"/>
<rect x="349" y="431" width="122" height="12.8" fill="url(#pGrille)"/>
<path d="M294,427 L327.5,428 C323,446 306,466 302.5,492.5 L286,492.5 C288,470 292,450 294,427 Z" fill="#222325"/>
<path d="M490.5,427.5 L526.5,427 C528,450 532,472 535,492.5 L520,492.5 C516,468 504,448 490.5,427.5 Z" fill="#222325"/>
<path d="M220.3,242 Q220.3,240 222.5,239.8 C258,234 290,247 303.5,270 L305.2,273 L305.2,413 L223.3,447.5 Z" fill="url(#gDoorL)"/>
<path d="M232.7,251.5 C256,249.5 281,258 291.8,275.4 L291.8,384.8 L236.8,404 Z" fill="url(#gGlassL)"/>

<g fill="none" stroke="#28292c" stroke-width="4.8" stroke-linecap="butt">
<path d="M233,266.5 C246,273 259,288 262.2,308"/>
<path d="M289.5,269.5 C276,279 267,292 265.2,308"/>
<path d="M233.5,296 C238,278 252,262 268.5,254.5"/>
</g>
<path d="M261.4,305 L266.6,305 L267.2,392.5 L261.7,394.4 Z" fill="#28292c"/><path d="M261.6,358 L267,358 L267.2,392.5 L261.7,394.4 Z" fill="#8d8e90"/>
<g fill="none" stroke="#6a6d73" stroke-width="1" opacity="0.7"><path d="M234,297.5 C239,280 253,264 269.5,256.5"/><path d="M288.5,271.5 C277.5,280 268.5,293 266.7,308"/></g>
<path d="M236.8,404 L291.8,384.8 L291.8,388.6 L236.8,408.4 Z" fill="#6f7072"/>
<path d="M226,444.6 L304,411.5" stroke="#37383b" stroke-width="1"/>
<path d="M220.8,318 C216.6,322 216.6,360 221.4,364 L224,364 L224,318 Z" fill="#191a1c"/>
<path d="M292.2,276 L292.2,386" stroke="#45474a" stroke-width="0.9" opacity="0.7"/>
<path d="M513.2,276 C519,259 544,241 580,239.2 L609,237.5 Q612.2,237.5 612.2,241 L611.6,340 L610.3,400 L607.6,438.5 Q607.2,441.4 604.5,440.6 L519,415.2 L513.2,413.5 Z" fill="url(#gDoorR)"/>
<path d="M529.8,273 C537,261 560,250.5 598.7,247.5 L598.3,398.7 L530,383.7 Z" fill="#fbfbfc"/>

<g fill="none" stroke="#303134" stroke-width="5">
<path d="M535.5,267 C548,276 557,290 559.8,307"/>
<path d="M597.5,265 C581,273 570,288 566.3,307"/>
<path d="M560,254.5 C576,261 592,275 598.5,292"/>
</g>
<path d="M559.4,304 L566.4,304 L565.4,391.6 L559.2,390.2 Z" fill="#36373a"/><path d="M559.3,335 L565.9,335 L565.4,391.6 L559.2,390.2 Z" fill="#555558"/>
<g fill="none" stroke="#74777d" stroke-width="1" opacity="0.7"><path d="M536.5,265.5 C549,274.5 558.5,288.5 561.3,305"/><path d="M561,253 C577,259.5 593,273.5 599.5,290.5"/></g>
<path d="M530,383.7 L598.3,398.7 L598.3,402 L530,387 Z" fill="#5e5f61"/>
<path d="M555,409.5 L569.5,413 L570,420 L555.3,416.5 Z" fill="#0e0e10"/>
<path d="M556,406.8 L568.5,409.8 L569.5,413 L555,409.5 Z" fill="#4f5154"/>
<path d="M611.5,314 C615.2,320 615.2,352 611.2,359 L609,359 L609,314 Z" fill="#191a1c"/>
<path d="M530.6,276 L530.6,383" stroke="#4b4c51" stroke-width="0.9" opacity="0.6"/>
</g>
<g stroke="#e8642a" stroke-width="1.3" fill="none">
<line x1="115.4" y1="229.4" x2="224" y2="304"/>
<line x1="599.4" y1="192.5" x2="492.5" y2="272.3"/>
<line x1="480.5" y1="399" x2="610.4" y2="480.4"/>
<line x1="293.7" y1="473" x2="232" y2="515"/>
</g>
<circle cx="223.8" cy="304.2" r="4.8" fill="#f26a25"/>
<circle cx="480.5" cy="399" r="5.8" fill="#f26a25"/>
<circle cx="293.7" cy="473" r="4.6" fill="#f26a25"/>
<line x1="411" y1="444" x2="423.3" y2="502" stroke="#f7c81e" stroke-width="1.8"/>
<circle cx="411" cy="443.7" r="5.4" fill="#fde23a"/>
<text transform="translate(33.7,201.5) scale(1.021,1)" font-size="21.15" fill="#000" text-anchor="start" >Double door</text>
<text transform="translate(33.7,227) scale(1.021,1)" font-size="21.15" fill="#000" text-anchor="start" >Can open and shut.</text>
<text transform="translate(475.6,187.4) scale(1.021,1)" font-size="21.15" fill="#000" text-anchor="start" >Realistic log and flame effects.</text>
<text transform="translate(612.1,482) scale(1.021,1)" font-size="21.15" fill="#000" text-anchor="start" >Mechanical</text>
<text transform="translate(612.1,507.4) scale(1.021,1)" font-size="21.15" fill="#000" text-anchor="start" >control panel</text>
<text transform="translate(351.2,521) scale(1.021,1)" font-size="21.15" fill="#000" text-anchor="start" >Infrared Quartz</text>
<text transform="translate(33.7,533.75) scale(1.013,1)" font-size="21.15" fill="#000" text-anchor="start" >Removable base supports,</text>
<text transform="translate(33.7,559.2) scale(1.0,1)" font-size="21.15" fill="#000" text-anchor="start" >easy to move, transport or</text>
<text transform="translate(33.7,584.4) scale(0.955,1)" font-size="21.15" fill="#000" text-anchor="start" >store.</text>
<text transform="translate(242.7,631) scale(1.012,1)" font-size="21.15" fill="#000" text-anchor="start" >3-Sided View</text>
<text transform="translate(242.7,662.4) scale(1.012,1)" font-size="21.15" fill="#000" text-anchor="start" >Timer with 9 hour settings</text>
<text transform="translate(242.7,693.4) scale(1.012,1)" font-size="21.15" fill="#000" text-anchor="start" >4 flame brightness</text>
<text transform="translate(437.9,693.4) scale(1.012,1)" font-size="21.15" fill="#000" text-anchor="start" >L4-L1</text>
<path d="M433.8,679.8 Q425.6,688.7 433.8,697.6" fill="none" stroke="#1a1a1a" stroke-width="1.15"/>
<path d="M496.3,679.8 Q504.5,688.7 496.3,697.6" fill="none" stroke="#1a1a1a" stroke-width="1.15"/>
<text transform="translate(242.7,725.4) scale(1.012,1)" font-size="21.15" fill="#000" text-anchor="start" >Flames operate with or without heat</text>
<text transform="translate(242.7,758) scale(1.012,1)" font-size="21.15" fill="#000" text-anchor="start" >Digital thermostat controls (64</text>
<circle cx="532.1" cy="745.6" r="1.5" fill="none" stroke="#777" stroke-width="0.7"/>
<text transform="translate(533.8000000000001,758) scale(0.8,1)" style="font-family:'Liberation Serif',serif" font-size="19" fill="#444">F</text>
<circle cx="584.5" cy="745.6" r="1.5" fill="none" stroke="#777" stroke-width="0.7"/>
<text transform="translate(586.2,758) scale(0.8,1)" style="font-family:'Liberation Serif',serif" font-size="19" fill="#444">F</text>
<text transform="translate(548,758) scale(1.012,1)" font-size="21.15" fill="#000" text-anchor="start" >-82</text>
<text transform="translate(600.6,758) scale(1.012,1)" font-size="21.15" fill="#000" text-anchor="start" >)</text>
</svg></body></html>
